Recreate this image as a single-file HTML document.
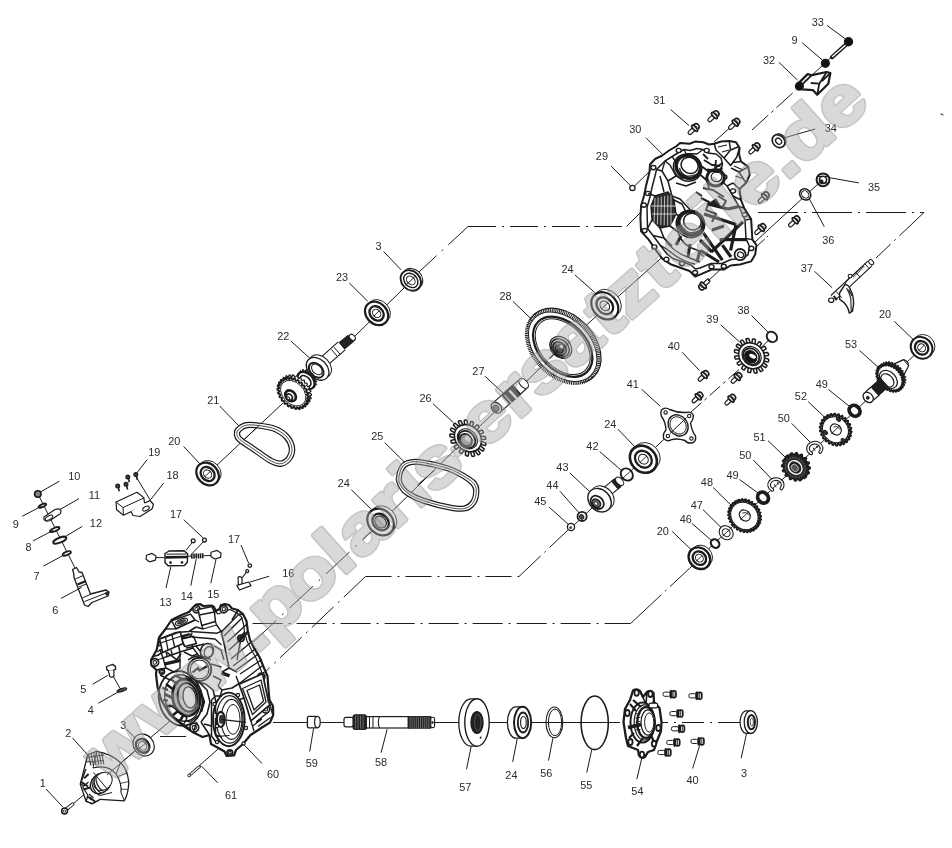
<!DOCTYPE html>
<html lang="de">
<head>
<meta charset="utf-8">
<title>Polaris Ersatzteile - Getriebe Explosionszeichnung</title>
<style>
html,body{margin:0;padding:0;background:#fff}
body{width:952px;height:848px;overflow:hidden}
svg{display:block}
svg text{font-family:"Liberation Sans",sans-serif;font-size:10.9px}
svg text.wm{font-weight:bold;font-size:69.5px}
#d{filter:blur(.35px)}
</style>
</head>
<body>
<svg width="952" height="848" viewBox="0 0 952 848">
<rect width="952" height="848" fill="#fff"/>
<g id="d">
<line x1="215" y1="467" x2="283" y2="403" stroke="#1c1c1c" stroke-width="1"/>
<line x1="300" y1="388" x2="352" y2="338" stroke="#1c1c1c" stroke-width="1"/>
<line x1="354" y1="337" x2="404" y2="288" stroke="#1c1c1c" stroke-width="1"/>
<line x1="419" y1="272" x2="468" y2="226.5" stroke="#1c1c1c" stroke-width="1" stroke-dasharray="24 7 2 7 30"/>
<line x1="468" y1="226.5" x2="626.5" y2="226.5" stroke="#1c1c1c" stroke-width="1" stroke-dasharray="28 6 2 6"/>
<line x1="626.5" y1="226.5" x2="643" y2="210" stroke="#1c1c1c" stroke-width="1"/>
<line x1="372" y1="531" x2="250" y2="645" stroke="#1c1c1c" stroke-width="1" stroke-dasharray="32 8 2 8" stroke-dashoffset="19"/>
<line x1="372" y1="531" x2="470" y2="435" stroke="#1c1c1c" stroke-width="1"/>
<line x1="480" y1="426" x2="560" y2="349" stroke="#1c1c1c" stroke-width="1"/>
<line x1="563" y1="346" x2="668" y2="252" stroke="#1c1c1c" stroke-width="1"/>
<line x1="365.5" y1="576.5" x2="262" y2="675" stroke="#1c1c1c" stroke-width="1" stroke-dasharray="30 6 2 6"/>
<line x1="365.5" y1="576.5" x2="519" y2="576.5" stroke="#1c1c1c" stroke-width="1" stroke-dasharray="26 6 2 6"/>
<line x1="519" y1="576.5" x2="568" y2="530" stroke="#1c1c1c" stroke-width="1" stroke-dasharray="30 5 2 5"/>
<line x1="572" y1="527" x2="680" y2="424" stroke="#1c1c1c" stroke-width="1"/>
<line x1="691" y1="412" x2="743" y2="366" stroke="#1c1c1c" stroke-width="1" stroke-dasharray="14 4 3 4"/>
<line x1="752" y1="356" x2="770" y2="339" stroke="#1c1c1c" stroke-width="1"/>
<line x1="630.6" y1="623.5" x2="250" y2="623.5" stroke="#1c1c1c" stroke-width="1" stroke-dasharray="30 6 2 6" stroke-dashoffset="4"/>
<line x1="630.6" y1="623.5" x2="692" y2="566" stroke="#1c1c1c" stroke-width="1" stroke-dasharray="42 5 2 5"/>
<line x1="700" y1="557" x2="923" y2="347" stroke="#1c1c1c" stroke-width="1"/>
<line x1="758" y1="212.5" x2="924" y2="212.5" stroke="#1c1c1c" stroke-width="1" stroke-dasharray="40 6 2 6"/>
<line x1="924" y1="212.5" x2="876" y2="258" stroke="#1c1c1c" stroke-width="1" stroke-dasharray="34 5 2 5"/>
<line x1="714" y1="142" x2="733" y2="125" stroke="#1c1c1c" stroke-width="1"/>
<line x1="752" y1="130" x2="796" y2="90" stroke="#1c1c1c" stroke-width="1" stroke-dasharray="22 4 3 4"/>
<line x1="797" y1="89" x2="850" y2="40" stroke="#1c1c1c" stroke-width="1"/>
<line x1="755" y1="242" x2="818" y2="184" stroke="#1c1c1c" stroke-width="1"/>
<line x1="744" y1="258" x2="768" y2="236" stroke="#1c1c1c" stroke-width="1" stroke-dasharray="10 3 2 3"/>
<line x1="273" y1="722.5" x2="620" y2="722.5" stroke="#1c1c1c" stroke-width="1"/>
<line x1="662" y1="722.5" x2="742" y2="722.5" stroke="#1c1c1c" stroke-width="1" stroke-dasharray="22 6 2 6" stroke-dashoffset="16"/>
<line x1="66" y1="810" x2="170" y2="721" stroke="#1c1c1c" stroke-width="1"/>
<line x1="160" y1="736.5" x2="186" y2="736.5" stroke="#1c1c1c" stroke-width="1"/>
<line x1="190" y1="774" x2="226" y2="742" stroke="#1c1c1c" stroke-width="1"/>
<line x1="38" y1="494" x2="76" y2="570" stroke="#1c1c1c" stroke-width="1"/>
<line x1="113" y1="676" x2="121" y2="690" stroke="#1c1c1c" stroke-width="1"/>
<circle cx="37.8" cy="494" r="3.2" fill="#888" stroke="#1c1c1c" stroke-width="1.6"/>
<line x1="40.7" y1="491.8" x2="59.4" y2="481.2" stroke="#1c1c1c" stroke-width="1"/>
<text x="74.3" y="479.8" text-anchor="middle" fill="#2a2a2a">10</text>
<ellipse cx="42.4" cy="505.6" rx="4" ry="1.4" fill="#fff" stroke="#1c1c1c" stroke-width="1.9" transform="rotate(-22 42.4 505.6)"/>
<line x1="22.3" y1="516.2" x2="41.4" y2="506.3" stroke="#1c1c1c" stroke-width="1"/>
<text x="15.9" y="527.9" text-anchor="middle" fill="#2a2a2a">9</text>
<path d="M44,517 L55,509.5 Q60,508 61,510.5 L60.5,513.5 L50,520.5 Q45.5,522 44,519.5 Z" fill="#fff" stroke="#1c1c1c" stroke-width="1.2" stroke-linejoin="round" />
<ellipse cx="49" cy="517.8" rx="4.2" ry="1.8" fill="#fff" stroke="#1c1c1c" stroke-width="1" transform="rotate(-28 49 517.8)"/>
<line x1="59.4" y1="509.9" x2="79" y2="498.6" stroke="#1c1c1c" stroke-width="1"/>
<text x="94.4" y="498.9" text-anchor="middle" fill="#2a2a2a">11</text>
<ellipse cx="54.7" cy="529.6" rx="5" ry="1.7" fill="#fff" stroke="#1c1c1c" stroke-width="1.9" transform="rotate(-22 54.7 529.6)"/>
<line x1="32.9" y1="541" x2="53" y2="530.4" stroke="#1c1c1c" stroke-width="1"/>
<text x="28.6" y="551.3" text-anchor="middle" fill="#2a2a2a">8</text>
<ellipse cx="59.8" cy="540.2" rx="7" ry="2.4" fill="#fff" stroke="#1c1c1c" stroke-width="2" transform="rotate(-22 59.8 540.2)"/>
<line x1="63.7" y1="537.5" x2="82.3" y2="526.4" stroke="#1c1c1c" stroke-width="1"/>
<text x="95.9" y="526.9" text-anchor="middle" fill="#2a2a2a">12</text>
<ellipse cx="66.8" cy="553.4" rx="4.4" ry="1.6" fill="#fff" stroke="#1c1c1c" stroke-width="1.8" transform="rotate(-22 66.8 553.4)"/>
<line x1="43.5" y1="566.1" x2="64.7" y2="554.6" stroke="#1c1c1c" stroke-width="1"/>
<text x="36.5" y="579.5" text-anchor="middle" fill="#2a2a2a">7</text>
<path d="M72.5,569.5 L76.5,567.5 L79,572 L82,572.5 L90.5,594 L106,590 L109,592 L108,596 L92,602.5 L88,606.5 L84.5,605 L74,577.5 L73.8,573.5 Z" fill="#fff" stroke="#1c1c1c" stroke-width="1.3" stroke-linejoin="round" />
<line x1="75.2" y1="579" x2="83.2" y2="575.6" stroke="#1c1c1c" stroke-width="1"/>
<line x1="77.5" y1="584.5" x2="85.5" y2="581.2" stroke="#1c1c1c" stroke-width="2.2"/>
<line x1="78.5" y1="587.2" x2="86.6" y2="583.8" stroke="#1c1c1c" stroke-width="1"/>
<line x1="82.6" y1="597.8" x2="90.8" y2="594.2" stroke="#1c1c1c" stroke-width="1"/>
<line x1="84.5" y1="601.5" x2="105" y2="593.5" stroke="#1c1c1c" stroke-width="1"/>
<circle cx="107" cy="593.5" r="1.6" fill="#333" stroke="#1c1c1c" stroke-width="1"/>
<line x1="61.1" y1="598.4" x2="81.7" y2="587.3" stroke="#1c1c1c" stroke-width="1"/>
<text x="55.2" y="613.5" text-anchor="middle" fill="#2a2a2a">6</text>
<circle cx="117.7" cy="486" r="1.9" fill="#444" stroke="#1c1c1c" stroke-width="1.2"/>
<line x1="118.2" y1="487.5" x2="119.3" y2="491.2" stroke="#1c1c1c" stroke-width="1.6"/>
<circle cx="126" cy="484.2" r="1.9" fill="#444" stroke="#1c1c1c" stroke-width="1.2"/>
<line x1="126.5" y1="485.7" x2="127.6" y2="489.4" stroke="#1c1c1c" stroke-width="1.6"/>
<circle cx="127.8" cy="477" r="1.9" fill="#444" stroke="#1c1c1c" stroke-width="1.2"/>
<line x1="128.3" y1="478.5" x2="129.4" y2="482.2" stroke="#1c1c1c" stroke-width="1.6"/>
<circle cx="135.8" cy="474.6" r="1.9" fill="#444" stroke="#1c1c1c" stroke-width="1.2"/>
<line x1="136.3" y1="476.1" x2="137.4" y2="479.8" stroke="#1c1c1c" stroke-width="1.6"/>
<line x1="136.8" y1="478" x2="150.5" y2="500.5" stroke="#1c1c1c" stroke-width="1"/>
<line x1="147.2" y1="459.5" x2="136.8" y2="473" stroke="#1c1c1c" stroke-width="1"/>
<text x="154.2" y="456.3" text-anchor="middle" fill="#2a2a2a">19</text>
<line x1="163.7" y1="483" x2="150.7" y2="499.6" stroke="#1c1c1c" stroke-width="1"/>
<text x="172.6" y="478.7" text-anchor="middle" fill="#2a2a2a">18</text>
<path d="M116,502 L137,492.3 L143.8,497.6 L144.8,505.2 L123.5,515.2 L116.6,509.8 Z" fill="#fff" stroke="#1c1c1c" stroke-width="1.2" stroke-linejoin="round" />
<path d="M116,502 L123,507.5 L144.2,497.8 M123,507.5 L123.5,515" fill="none" stroke="#1c1c1c" stroke-width="1" stroke-linejoin="round" />
<path d="M131,511.5 L133,515.5 L140,516.5 L152,509 L153.5,504.5 L150,500.5 L144.8,503" fill="#fff" stroke="#1c1c1c" stroke-width="1.2" stroke-linejoin="round" />
<ellipse cx="146" cy="508.5" rx="3.6" ry="2" fill="#fff" stroke="#1c1c1c" stroke-width="1" transform="rotate(-28 146 508.5)"/>
<text x="176" y="518.3" text-anchor="middle" fill="#2a2a2a">17</text>
<line x1="183.7" y1="519.6" x2="203.2" y2="538" stroke="#1c1c1c" stroke-width="1"/>
<circle cx="193.2" cy="540.8" r="1.9" fill="#fff" stroke="#1c1c1c" stroke-width="1.3"/>
<circle cx="204.5" cy="540.1" r="1.9" fill="#fff" stroke="#1c1c1c" stroke-width="1.3"/>
<line x1="192" y1="542.7" x2="186" y2="550.3" stroke="#1c1c1c" stroke-width="1"/>
<line x1="203.3" y1="541.8" x2="190.8" y2="555" stroke="#1c1c1c" stroke-width="1"/>
<path d="M146.5,555.2 L152,553.4 L156,556 L155.4,560.2 L149.5,561.8 L146,559.2 Z" fill="#fff" stroke="#1c1c1c" stroke-width="1.2" stroke-linejoin="round" />
<line x1="156" y1="557.6" x2="164" y2="557.6" stroke="#1c1c1c" stroke-width="1"/>
<path d="M165,553.5 L169,551 L184,550.8 L187.6,553.8 L187.4,562 L184.5,565.5 L168,565.8 L165,562.5 Z" fill="#fff" stroke="#1c1c1c" stroke-width="1.4" stroke-linejoin="round" />
<line x1="165.4" y1="557.4" x2="187.4" y2="557" stroke="#1c1c1c" stroke-width="2.6"/>
<line x1="166.5" y1="554.2" x2="186.4" y2="554" stroke="#1c1c1c" stroke-width="1"/>
<circle cx="170.5" cy="562.6" r="1" fill="#222" stroke="#1c1c1c" stroke-width="0.8"/>
<circle cx="182" cy="562.4" r="1" fill="#222" stroke="#1c1c1c" stroke-width="0.8"/>
<line x1="191" y1="556.2" x2="203.6" y2="555.8" stroke="#1c1c1c" stroke-width="5" stroke-dasharray="1.6 0.6"/>
<line x1="187.6" y1="556.2" x2="191" y2="556.2" stroke="#1c1c1c" stroke-width="1"/>
<line x1="203.6" y1="555.8" x2="211" y2="555.4" stroke="#1c1c1c" stroke-width="1"/>
<path d="M211,552.2 L217,550.4 L221,553 L220.6,557.4 L214.6,559 L211,556.4 Z" fill="#fff" stroke="#1c1c1c" stroke-width="1.2" stroke-linejoin="round" />
<line x1="170.8" y1="566.8" x2="166" y2="588" stroke="#1c1c1c" stroke-width="1"/>
<text x="165.6" y="605.6" text-anchor="middle" fill="#2a2a2a">13</text>
<line x1="196.2" y1="559.2" x2="190.8" y2="585.7" stroke="#1c1c1c" stroke-width="1"/>
<text x="186.8" y="599.7" text-anchor="middle" fill="#2a2a2a">14</text>
<line x1="216" y1="559.4" x2="210.8" y2="583.3" stroke="#1c1c1c" stroke-width="1"/>
<text x="213.2" y="597.8" text-anchor="middle" fill="#2a2a2a">15</text>
<text x="234" y="542.9" text-anchor="middle" fill="#2a2a2a">17</text>
<line x1="241" y1="545.1" x2="248.6" y2="563" stroke="#1c1c1c" stroke-width="1"/>
<circle cx="249.8" cy="565.6" r="1.8" fill="#fff" stroke="#1c1c1c" stroke-width="1.3"/>
<circle cx="247.2" cy="571.2" r="1.5" fill="#fff" stroke="#1c1c1c" stroke-width="1.2"/>
<path d="M238,577.5 L238.4,585 L242,586 L242,578 Q240,575.6 238,577.5 Z" fill="#fff" stroke="#1c1c1c" stroke-width="1.2" stroke-linejoin="round" />
<line x1="242" y1="578" x2="247" y2="571.5" stroke="#1c1c1c" stroke-width="1.2"/>
<path d="M236.8,585.4 L248.6,582 L251,585.6 L239.4,590 Z" fill="#fff" stroke="#1c1c1c" stroke-width="1.2" stroke-linejoin="round" />
<line x1="249.8" y1="582.1" x2="269.3" y2="576.2" stroke="#1c1c1c" stroke-width="1"/>
<text x="288.2" y="576.6" text-anchor="middle" fill="#2a2a2a">16</text>
<path d="M106.6,666.5 L112.6,664.4 L115.4,666.4 L115.6,669.4 L109.6,671.6 L106.8,669.6 Z" fill="#fff" stroke="#1c1c1c" stroke-width="1.3" stroke-linejoin="round" />
<path d="M108.4,671 L109.8,676.4 Q112.2,678.2 114,676 L113.8,670" fill="#fff" stroke="#1c1c1c" stroke-width="1.2" stroke-linejoin="round" />
<line x1="92.6" y1="684.3" x2="107.7" y2="675.4" stroke="#1c1c1c" stroke-width="1"/>
<text x="83.2" y="693.4" text-anchor="middle" fill="#2a2a2a">5</text>
<ellipse cx="121.9" cy="690" rx="5" ry="1.5" fill="#555" stroke="#1c1c1c" stroke-width="1.2" transform="rotate(-18 121.9 690)"/>
<line x1="98.3" y1="703.2" x2="118.5" y2="691.8" stroke="#1c1c1c" stroke-width="1"/>
<text x="90.8" y="713.5" text-anchor="middle" fill="#2a2a2a">4</text>
<path d="M87.8,754.5 L96.6,751.4 Q112,754 120.6,762.8 Q127,768 128.8,782 Q128.6,793 124.4,800.8 L100.4,799.3 L92,804 L86,801 L80.3,784.2 Z" fill="#fff" stroke="#1c1c1c" stroke-width="1.3" stroke-linejoin="round" />
<path d="M93,768 Q108,764 116,774 Q122,783 121,792.5" fill="none" stroke="#1c1c1c" stroke-width="1.2" stroke-linejoin="round" />
<path d="M96.6,751.4 L93,768 M120.6,762.8 L116,774 M124.4,800.8 L121,792.5" fill="none" stroke="#1c1c1c" stroke-width="1" stroke-linejoin="round" />
<line x1="117.5" y1="776.5" x2="127.6" y2="773" stroke="#1c1c1c" stroke-width="0.8"/>
<line x1="120" y1="783.5" x2="128.8" y2="781.5" stroke="#1c1c1c" stroke-width="0.8"/>
<line x1="121" y1="789" x2="127.6" y2="789.5" stroke="#1c1c1c" stroke-width="0.8"/>
<line x1="88.5" y1="754.5" x2="90.9" y2="765.5" stroke="#1c1c1c" stroke-width="1.1"/>
<line x1="91.1" y1="754" x2="93.5" y2="765.3" stroke="#1c1c1c" stroke-width="1.1"/>
<line x1="93.7" y1="753.5" x2="96.1" y2="765.1" stroke="#1c1c1c" stroke-width="1.1"/>
<line x1="96.3" y1="753" x2="98.7" y2="764.9" stroke="#1c1c1c" stroke-width="1.1"/>
<line x1="98.9" y1="752.5" x2="101.3" y2="764.7" stroke="#1c1c1c" stroke-width="1.1"/>
<line x1="101.5" y1="752" x2="103.9" y2="764.5" stroke="#1c1c1c" stroke-width="1.1"/>
<line x1="86.5" y1="757.5" x2="104" y2="755" stroke="#1c1c1c" stroke-width="1"/>
<line x1="86.5" y1="762" x2="104" y2="760.5" stroke="#1c1c1c" stroke-width="1"/>
<ellipse cx="100.6" cy="783.5" rx="9.2" ry="11.2" fill="#fff" stroke="#1c1c1c" stroke-width="1.4" transform="rotate(46 100.6 783.5)"/>
<ellipse cx="103" cy="781.4" rx="8.2" ry="10.2" fill="#fff" stroke="#1c1c1c" stroke-width="1" transform="rotate(46 103 781.4)"/>
<path d="M92,779 Q91,790 99.5,795.5 M94,777 Q93,788 101.5,793.5 M96,775.5 Q95,786 103.5,791.5" fill="none" stroke="#1c1c1c" stroke-width="1.1" stroke-linejoin="round" />
<path d="M93.4,772.5 L108,790 M99.6,795.6 L112,792.5" fill="none" stroke="#1c1c1c" stroke-width="1" stroke-linejoin="round" />
<path d="M81.5,782 L88,786.5 M83.6,789.5 L90,787.5 M84,778.4 L88.6,774 M89,797 L95,801.5" fill="none" stroke="#1c1c1c" stroke-width="2" stroke-linejoin="round" />
<line x1="107" y1="774.9" x2="134" y2="751.8" stroke="#1c1c1c" stroke-width="1"/>
<path d="M86,769 L80.5,783.5 L84,786 L88.5,782 M82.5,786.5 L88,795.5 L86,801.5 L92.5,803.5 L100,799.5" fill="none" stroke="#1c1c1c" stroke-width="1.3" stroke-linejoin="round" />
<path d="M87,796 L91.5,800 M89,794 L93.5,798" fill="none" stroke="#1c1c1c" stroke-width="1.2" stroke-linejoin="round" />
<line x1="72.4" y1="737.9" x2="88.4" y2="755.6" stroke="#1c1c1c" stroke-width="1"/>
<text x="68.3" y="737.1" text-anchor="middle" fill="#2a2a2a">2</text>
<line x1="66.8" y1="809" x2="72.6" y2="804.2" stroke="#1c1c1c" stroke-width="3.6" stroke-linecap="round"/>
<line x1="66.8" y1="809" x2="72.6" y2="804.2" stroke="#fff" stroke-width="1.8" stroke-linecap="round"/>
<circle cx="64.6" cy="811" r="2.9" fill="#fff" stroke="#1c1c1c" stroke-width="1.5"/>
<circle cx="64.6" cy="811" r="1.2" fill="#fff" stroke="#1c1c1c" stroke-width="0.8"/>
<line x1="46" y1="789" x2="62.6" y2="806.8" stroke="#1c1c1c" stroke-width="1"/>
<text x="42.9" y="787.3" text-anchor="middle" fill="#2a2a2a">1</text>
<ellipse cx="143.6" cy="745" rx="11.6" ry="10" fill="#fff" stroke="#1c1c1c" stroke-width="1.2" transform="rotate(50 143.6 745)"/>
<ellipse cx="142.6" cy="745.8" rx="7.4" ry="6.2" fill="#fff" stroke="#1c1c1c" stroke-width="2.4" transform="rotate(50 142.6 745.8)"/>
<ellipse cx="142.6" cy="745.8" rx="4.6" ry="3.8" fill="#fff" stroke="#1c1c1c" stroke-width="1" transform="rotate(50 142.6 745.8)"/>
<line x1="137.5" y1="750" x2="147.5" y2="741.6" stroke="#1c1c1c" stroke-width="0.9"/>
<line x1="126.6" y1="729.2" x2="135.6" y2="738.4" stroke="#1c1c1c" stroke-width="1"/>
<text x="123.3" y="728.8" text-anchor="middle" fill="#2a2a2a">3</text>
<line x1="190.4" y1="774.4" x2="199.6" y2="766.6" stroke="#1c1c1c" stroke-width="2.8" stroke-linecap="round"/>
<line x1="190.6" y1="774.2" x2="199.4" y2="766.8" stroke="#fff" stroke-width="1.2" stroke-linecap="round"/>
<circle cx="189.2" cy="775.4" r="1.4" fill="#fff" stroke="#1c1c1c" stroke-width="1"/>
<line x1="201.6" y1="766.2" x2="217.6" y2="782.7" stroke="#1c1c1c" stroke-width="1"/>
<text x="231" y="798.9" text-anchor="middle" fill="#2a2a2a">61</text>
<polygon points="193,607.5 196,604.5 200,604 203,606 211.5,605.5 214,607 216,611 219.5,609 221,605 225,604 229,605 232,608.5 238,610 243,614 246.5,621 247.8,631 250,640 254,648 259.5,657 264,668 267.5,676 268.5,690 269.5,700 273,706 273.2,715 270,722.5 262,727.5 256,731.5 250.5,735 243,744 236,750 234,755.5 226.5,755.8 224.5,751.5 217.5,747.5 211,744 209.5,735 202.5,737 193.5,732.5 183,725.5 170,715 161.5,700.5 157.5,687 156,674 156.5,670 151.5,665.5 151,660 153,656.5 156.8,649.5 159,637.5 165.5,629 171.5,620 180.5,615.5 189,612" fill="#fff" stroke="#1c1c1c" stroke-width="2.2" stroke-linejoin="round"/>
<polyline points="195,612 214,610.5 218,614 230,609.5 237,613 241.5,617 243.5,624 244.5,632 247,641 251,649 256,658 260.5,669 264,678 265,691 266,701" fill="none" stroke="#1c1c1c" stroke-width="1.2" stroke-linejoin="round"/>
<circle cx="196.5" cy="609.2" r="3.6" fill="#fff" stroke="#1c1c1c" stroke-width="1.7"/>
<circle cx="196.5" cy="609.2" r="1.7" fill="#fff" stroke="#1c1c1c" stroke-width="1.1"/>
<circle cx="223.8" cy="609.2" r="3.6" fill="#fff" stroke="#1c1c1c" stroke-width="1.7"/>
<circle cx="223.8" cy="609.2" r="1.7" fill="#fff" stroke="#1c1c1c" stroke-width="1.1"/>
<circle cx="241" cy="638.3" r="3.2" fill="#fff" stroke="#1c1c1c" stroke-width="1.7"/>
<circle cx="241" cy="638.3" r="1.5" fill="#fff" stroke="#1c1c1c" stroke-width="1.1"/>
<circle cx="261.3" cy="676.6" r="3.6" fill="#fff" stroke="#1c1c1c" stroke-width="1.7"/>
<circle cx="261.3" cy="676.6" r="1.7" fill="#fff" stroke="#1c1c1c" stroke-width="1.1"/>
<circle cx="265.8" cy="709.2" r="3.8" fill="#fff" stroke="#1c1c1c" stroke-width="1.7"/>
<circle cx="265.8" cy="709.2" r="1.8" fill="#fff" stroke="#1c1c1c" stroke-width="1.1"/>
<circle cx="194.3" cy="727.5" r="4.4" fill="#fff" stroke="#1c1c1c" stroke-width="1.7"/>
<circle cx="194.3" cy="727.5" r="2.1" fill="#fff" stroke="#1c1c1c" stroke-width="1.1"/>
<circle cx="154.8" cy="662.4" r="3.8" fill="#fff" stroke="#1c1c1c" stroke-width="1.7"/>
<circle cx="154.8" cy="662.4" r="1.8" fill="#fff" stroke="#1c1c1c" stroke-width="1.1"/>
<circle cx="161.9" cy="671.5" r="2.6" fill="#fff" stroke="#1c1c1c" stroke-width="1.7"/>
<circle cx="161.9" cy="671.5" r="1.2" fill="#fff" stroke="#1c1c1c" stroke-width="1.1"/>
<circle cx="229.8" cy="752.6" r="2.8" fill="#fff" stroke="#1c1c1c" stroke-width="1.7"/>
<circle cx="229.8" cy="752.6" r="1.3" fill="#fff" stroke="#1c1c1c" stroke-width="1.1"/>
<path d="M198.2,609.5 L211.8,606.6 L214.4,612 L215.4,621.5 L201.8,625.5 L199.2,615 Z" fill="#fff" stroke="#1c1c1c" stroke-width="1.5" stroke-linejoin="round" />
<path d="M199.2,615 L214.4,612 M201.8,625.5 L203,629 L216.6,625 L215.4,621.5" fill="none" stroke="#1c1c1c" stroke-width="1.3" stroke-linejoin="round" />
<path d="M171.5,620.7 L190.6,614.1 L195,620 L176,628.8 Z" fill="#fff" stroke="#1c1c1c" stroke-width="1.5" stroke-linejoin="round" />
<ellipse cx="181.5" cy="621.8" rx="6.4" ry="2.6" fill="#fff" stroke="#1c1c1c" stroke-width="1.2" transform="rotate(-22 181.5 621.8)"/>
<ellipse cx="181.5" cy="621.8" rx="4.2" ry="1.3" fill="#555" stroke="#1c1c1c" stroke-width="0.9" transform="rotate(-22 181.5 621.8)"/>
<path d="M165.5,629 L176,628.8 L195,620 L199,622" fill="none" stroke="#1c1c1c" stroke-width="1.3" stroke-linejoin="round" />
<path d="M159.5,639 L176,632.5 L189,631.5 L196,627 M158,646 L176,638 L190,637 L192,633 M176,632.5 L176,638" fill="none" stroke="#1c1c1c" stroke-width="1.7" stroke-linejoin="round" />
<path d="M160,650 L178,643.5 L180,652 L163,658 Z" fill="#fff" stroke="#1c1c1c" stroke-width="1.5" stroke-linejoin="round" />
<path d="M178,643.5 L191,640.5 L193,648 L180,652 M163,658 L166,668 L174,672 L180,668 L180,652 M166,652 L167.5,657 M171,650 L172.5,655.5" fill="none" stroke="#1c1c1c" stroke-width="1.4" stroke-linejoin="round" />
<path d="M159,642.5 L190,634.2" fill="none" stroke="#1c1c1c" stroke-width="2.4" stroke-linejoin="round" />
<path d="M157,652 L160,650 M157,660 L163,658 M153,656.5 L159,655" fill="none" stroke="#1c1c1c" stroke-width="1.3" stroke-linejoin="round" />
<path d="M159.7,639.1 L180.3,631.8 L183.2,643.5 L162.6,652.4 Z" fill="#fff" stroke="#1c1c1c" stroke-width="1.6" stroke-linejoin="round" />
<path d="M172,634.8 L174.6,647 M165.5,637 L168,650 M160.5,643 L181.6,636" fill="none" stroke="#1c1c1c" stroke-width="1.3" stroke-linejoin="round" />
<path d="M181.8,639.1 L193.5,636.2 L196.5,643.5 L184.7,646.5 Z" fill="#fff" stroke="#1c1c1c" stroke-width="1.5" stroke-linejoin="round" />
<path d="M167,652.4 L176.6,659.7 L181,653.8 M162.6,652.4 L158,655 M183.2,643.5 L184.7,646.5" fill="none" stroke="#1c1c1c" stroke-width="1.6" stroke-linejoin="round" />
<path d="M186,648 L196,646 L200,651 M184,652 L192,656 L198,654" fill="none" stroke="#1c1c1c" stroke-width="1.5" stroke-linejoin="round" />
<line x1="164.1" y1="664.1" x2="180.3" y2="660.4" stroke="#1c1c1c" stroke-width="3.4"/>
<line x1="221.5" y1="672.9" x2="229.6" y2="675.9" stroke="#1c1c1c" stroke-width="3.4"/>
<path d="M156.5,670 L166,668 M160,675 L170,680 L176,676" fill="none" stroke="#1c1c1c" stroke-width="1.4" stroke-linejoin="round" />
<ellipse cx="207" cy="651" rx="6.4" ry="7.6" fill="#fff" stroke="#1c1c1c" stroke-width="1.6" transform="rotate(20 207 651)"/>
<ellipse cx="208.5" cy="652" rx="4.2" ry="5.4" fill="#fff" stroke="#1c1c1c" stroke-width="1.2" transform="rotate(20 208.5 652)"/>
<path d="M190,631.5 L217,633.2 L222,631 M192,637 L215,639 L221.5,645 M196,646 L204,644 M193,648 L199,656 M214,646 L221,650 L224,660" fill="none" stroke="#1c1c1c" stroke-width="1.4" stroke-linejoin="round" />
<path d="M196,627 L203,629 M216.6,625 L221.5,631.8" fill="none" stroke="#1c1c1c" stroke-width="1.4" stroke-linejoin="round" />
<line x1="221.5" y1="631.8" x2="239.1" y2="614.1" stroke="#1c1c1c" stroke-width="1.4"/>
<line x1="224" y1="636" x2="242.5" y2="617.5" stroke="#1c1c1c" stroke-width="1.4"/>
<line x1="227.4" y1="642" x2="246.5" y2="624.4" stroke="#1c1c1c" stroke-width="1.4"/>
<line x1="229" y1="650" x2="249" y2="632" stroke="#1c1c1c" stroke-width="1.4"/>
<line x1="231" y1="659" x2="252.5" y2="641" stroke="#1c1c1c" stroke-width="1.4"/>
<line x1="233" y1="666" x2="256" y2="648.5" stroke="#1c1c1c" stroke-width="1.4"/>
<line x1="236.2" y1="670" x2="259" y2="653.5" stroke="#1c1c1c" stroke-width="1.4"/>
<line x1="240" y1="674" x2="262" y2="659.5" stroke="#1c1c1c" stroke-width="1.4"/>
<path d="M221.5,631.8 L225,648 L229,668 L237,672 M239.1,614.1 L243,614.5 M238,610 L232,620 M229,668 L222,672" fill="none" stroke="#1c1c1c" stroke-width="1.6" stroke-linejoin="round" />
<path d="M247.9,631 L241,638 L237,660 M262,666 L240,683 M264.5,672 L244,688 M244.5,632 L238,640" fill="none" stroke="#1c1c1c" stroke-width="1.4" stroke-linejoin="round" />
<circle cx="199.6" cy="669.4" r="11.6" fill="#fff" stroke="#1c1c1c" stroke-width="1.9"/>
<circle cx="199.6" cy="669.4" r="9.4" fill="#fff" stroke="#1c1c1c" stroke-width="1.1"/>
<path d="M192.5,672.5 L198,668 L199.5,670.5 L207.5,666" fill="none" stroke="#1c1c1c" stroke-width="2.2" stroke-linejoin="round" />
<path d="M188,660 Q199,652 211,660 M186,676 Q189,684 198,686 M213,676 L221,680 L218,686 M211,664 L221.5,667" fill="none" stroke="#1c1c1c" stroke-width="1.4" stroke-linejoin="round" />
<ellipse cx="180.5" cy="698.5" rx="21.5" ry="27.5" fill="none" stroke="#1c1c1c" stroke-width="1.8" transform="rotate(-12 180.5 698.5)"/>
<ellipse cx="182.5" cy="698" rx="17.5" ry="23.5" fill="none" stroke="#1c1c1c" stroke-width="1.4" transform="rotate(-12 182.5 698)"/>
<ellipse cx="186.2" cy="697.4" rx="13.6" ry="18.6" fill="#b5b5b5" stroke="#1c1c1c" stroke-width="2.6" transform="rotate(-10 186.2 697.4)"/>
<ellipse cx="187.6" cy="697.4" rx="9.8" ry="14.4" fill="#dcdcdc" stroke="#1c1c1c" stroke-width="2" transform="rotate(-10 187.6 697.4)"/>
<ellipse cx="189.5" cy="697.4" rx="6.4" ry="10.6" fill="#fff" stroke="#1c1c1c" stroke-width="1.3" transform="rotate(-10 189.5 697.4)"/>
<path d="M166,684 L174,690 M164.5,694 L172.5,698 M166.5,706 L174.5,706 M172,716 L178,711 M180,721 L184,714" fill="none" stroke="#1c1c1c" stroke-width="2.6" stroke-linejoin="round" />
<path d="M176,676 L185,680 M171,679.5 L178,684 M162.5,688 L168,690 M163,700 L168,700.5" fill="none" stroke="#1c1c1c" stroke-width="2" stroke-linejoin="round" />
<path d="M200,683 L207,690 L210,702 L207,714 L201,722 M206,684 L213,690 L216,702 L214,712 M196,682 L206,684 M201,722 L209.5,735 M198,716 L190,722 L186,720" fill="none" stroke="#1c1c1c" stroke-width="1.5" stroke-linejoin="round" />
<path d="M218,686 L222,690 L219,700 L213,704 M222,690 L232,688 L240,683 M204,724 L211.5,726" fill="none" stroke="#1c1c1c" stroke-width="1.5" stroke-linejoin="round" />
<path d="M183,725.5 L187,718 L170,705 M193,732.5 L197,722 M176,719 L190,729" fill="none" stroke="#1c1c1c" stroke-width="1.4" stroke-linejoin="round" />
<path d="M200,690 L204,702 L201,712" fill="none" stroke="#1c1c1c" stroke-width="2.4" stroke-linejoin="round" />
<path d="M239.1,684.1 L262.6,673.8 L268.5,701.8 L270,704.7 L250.9,720.9 L244,698 Z" fill="#fff" stroke="#1c1c1c" stroke-width="1.7" stroke-linejoin="round" />
<path d="M242.5,688.5 L261,680 L266,702 L252.5,714.5 Z M247,690.5 L259.5,685 L263.5,701 L254,710 Z" fill="none" stroke="#1c1c1c" stroke-width="1.3" stroke-linejoin="round" />
<path d="M250.9,720.9 L254,731 M270,704.7 L272.5,714 M256,722 L268.5,712 M258,726.5 L270.5,717.5 M252.5,726 L262,719" fill="none" stroke="#1c1c1c" stroke-width="1.4" stroke-linejoin="round" />
<path d="M239.1,684.1 L236,676 M244,698 L238,700" fill="none" stroke="#1c1c1c" stroke-width="1.4" stroke-linejoin="round" />
<ellipse cx="228.8" cy="719.4" rx="15.8" ry="26.8" fill="#fff" stroke="#1c1c1c" stroke-width="1.9"/>
<ellipse cx="229.6" cy="719.4" rx="13.4" ry="23.8" fill="#fff" stroke="#1c1c1c" stroke-width="1.2"/>
<ellipse cx="231.5" cy="719.4" rx="10.4" ry="20" fill="#fff" stroke="#1c1c1c" stroke-width="1.1"/>
<ellipse cx="233" cy="719.4" rx="7" ry="15" fill="#fff" stroke="#1c1c1c" stroke-width="1"/>
<path d="M211.5,700 L215.5,696 L222,696 M211.5,700 L211.5,736 L216,742 M215.5,718 L215.5,735 L222,737 M215.5,704 L215.5,714" fill="none" stroke="#1c1c1c" stroke-width="1.5" stroke-linejoin="round" />
<ellipse cx="220.7" cy="719.4" rx="3.9" ry="7.6" fill="#fff" stroke="#1c1c1c" stroke-width="2.2"/>
<ellipse cx="221.4" cy="719.4" rx="1.8" ry="3.8" fill="#444" stroke="#1c1c1c" stroke-width="1.1"/>
<line x1="221" y1="719.4" x2="246" y2="722.4" stroke="#1c1c1c" stroke-width="1.2"/>
<line x1="215.5" y1="736.5" x2="229.5" y2="735.5" stroke="#1c1c1c" stroke-width="1.2"/>
<circle cx="217" cy="726" r="1.6" fill="#fff" stroke="#1c1c1c" stroke-width="1.2"/>
<circle cx="217" cy="742" r="1.6" fill="#fff" stroke="#1c1c1c" stroke-width="1.2"/>
<circle cx="243.5" cy="743.5" r="1.6" fill="#fff" stroke="#1c1c1c" stroke-width="1.2"/>
<circle cx="246" cy="728" r="1.6" fill="#fff" stroke="#1c1c1c" stroke-width="1.2"/>
<circle cx="238" cy="695" r="1.6" fill="#fff" stroke="#1c1c1c" stroke-width="1.2"/>
<circle cx="214.5" cy="704" r="1.6" fill="#fff" stroke="#1c1c1c" stroke-width="1.2"/>
<line x1="243.8" y1="744.6" x2="262" y2="763.5" stroke="#1c1c1c" stroke-width="1"/>
<text x="273" y="777.9" text-anchor="middle" fill="#2a2a2a">60</text>
<rect x="307.4" y="716.4" width="10" height="11.4" rx="1.6" fill="#fff" stroke="#1c1c1c" stroke-width="1.3"/>
<ellipse cx="317.4" cy="722.1" rx="2.8" ry="5.7" fill="#fff" stroke="#1c1c1c" stroke-width="1.2"/>
<line x1="313.6" y1="728.4" x2="309.7" y2="751.4" stroke="#1c1c1c" stroke-width="1"/>
<text x="311.8" y="767.1" text-anchor="middle" fill="#2a2a2a">59</text>
<rect x="344" y="717.4" width="9.5" height="9.4" rx="2" fill="#fff" stroke="#1c1c1c" stroke-width="1.2"/>
<rect x="353" y="714.8" width="13.4" height="14.6" rx="1.5" fill="#222" stroke="#1c1c1c" stroke-width="1"/>
<line x1="355.5" y1="715.5" x2="355.5" y2="728.8" stroke="#888" stroke-width="0.7"/>
<line x1="358" y1="715.5" x2="358" y2="728.8" stroke="#888" stroke-width="0.7"/>
<line x1="360.5" y1="715.5" x2="360.5" y2="728.8" stroke="#888" stroke-width="0.7"/>
<line x1="363" y1="715.5" x2="363" y2="728.8" stroke="#888" stroke-width="0.7"/>
<rect x="366.4" y="716.6" width="42" height="11.4" fill="#fff" stroke="#1c1c1c" stroke-width="1.2"/>
<line x1="369.5" y1="716.6" x2="369.5" y2="728" stroke="#1c1c1c" stroke-width="1"/>
<line x1="373" y1="716.6" x2="373" y2="728" stroke="#1c1c1c" stroke-width="1"/>
<path d="M379.5,716.6 Q377,722.3 379.5,728" fill="none" stroke="#1c1c1c" stroke-width="1.1" stroke-linejoin="round" />
<rect x="408.2" y="716.6" width="22.6" height="11.6" fill="#222" stroke="#1c1c1c" stroke-width="1"/>
<line x1="410" y1="717" x2="410" y2="728" stroke="#999" stroke-width="0.6"/>
<line x1="412.1" y1="717" x2="412.1" y2="728" stroke="#999" stroke-width="0.6"/>
<line x1="414.2" y1="717" x2="414.2" y2="728" stroke="#999" stroke-width="0.6"/>
<line x1="416.3" y1="717" x2="416.3" y2="728" stroke="#999" stroke-width="0.6"/>
<line x1="418.4" y1="717" x2="418.4" y2="728" stroke="#999" stroke-width="0.6"/>
<line x1="420.5" y1="717" x2="420.5" y2="728" stroke="#999" stroke-width="0.6"/>
<line x1="422.6" y1="717" x2="422.6" y2="728" stroke="#999" stroke-width="0.6"/>
<line x1="424.7" y1="717" x2="424.7" y2="728" stroke="#999" stroke-width="0.6"/>
<line x1="426.8" y1="717" x2="426.8" y2="728" stroke="#999" stroke-width="0.6"/>
<line x1="428.9" y1="717" x2="428.9" y2="728" stroke="#999" stroke-width="0.6"/>
<rect x="430.8" y="717.2" width="3.8" height="10.4" rx="1.6" fill="#fff" stroke="#1c1c1c" stroke-width="1.1"/>
<circle cx="432.6" cy="722.4" r="1" fill="#333" stroke="#1c1c1c" stroke-width="0.6"/>
<line x1="387.2" y1="729.1" x2="381.1" y2="752.7" stroke="#1c1c1c" stroke-width="1"/>
<text x="381.1" y="766.3" text-anchor="middle" fill="#2a2a2a">58</text>
<path d="M471,698.8 A12.2,23.7 0 0 0 471,746.2 L477,746.2 L477,698.8 Z" fill="#fff" stroke="#1c1c1c" stroke-width="1.3" stroke-linejoin="round" />
<ellipse cx="477" cy="722.5" rx="12.2" ry="23.7" fill="#fff" stroke="#1c1c1c" stroke-width="1.4"/>
<ellipse cx="477" cy="722.5" rx="6" ry="10.8" fill="#222" stroke="#1c1c1c" stroke-width="1.4"/>
<ellipse cx="477.8" cy="722.5" rx="3.2" ry="8.4" fill="#222" stroke="#999" stroke-width="0.8" stroke-dasharray="1 1"/>
<circle cx="480.6" cy="737.6" r="0.8" fill="#333" stroke="#1c1c1c" stroke-width="0.5"/>
<line x1="471.2" y1="746.4" x2="466.5" y2="769.3" stroke="#1c1c1c" stroke-width="1"/>
<text x="465.2" y="790.8" text-anchor="middle" fill="#2a2a2a">57</text>
<path d="M516,706.8 A8.6,15.7 0 0 0 516,738.2 L522.6,738.2 L522.6,706.8 Z" fill="#fff" stroke="#1c1c1c" stroke-width="1.3" stroke-linejoin="round" />
<ellipse cx="522.6" cy="722.5" rx="8.6" ry="15.7" fill="#fff" stroke="#1c1c1c" stroke-width="2"/>
<ellipse cx="523" cy="722.5" rx="5.2" ry="10" fill="#fff" stroke="#1c1c1c" stroke-width="1.8"/>
<ellipse cx="523.4" cy="722.5" rx="2.8" ry="6" fill="#fff" stroke="#1c1c1c" stroke-width="1.1"/>
<line x1="517.2" y1="738.8" x2="512.7" y2="761.9" stroke="#1c1c1c" stroke-width="1"/>
<text x="511.4" y="778.9" text-anchor="middle" fill="#2a2a2a">24</text>
<ellipse cx="554.4" cy="722.4" rx="8.4" ry="15.4" fill="none" stroke="#1c1c1c" stroke-width="1.1"/>
<ellipse cx="555" cy="722.4" rx="6.6" ry="13.4" fill="none" stroke="#1c1c1c" stroke-width="1"/>
<line x1="552.9" y1="738.2" x2="548.5" y2="760.6" stroke="#1c1c1c" stroke-width="1"/>
<text x="546.2" y="776.9" text-anchor="middle" fill="#2a2a2a">56</text>
<ellipse cx="594.7" cy="722.8" rx="13.6" ry="26.8" fill="none" stroke="#1c1c1c" stroke-width="1.6"/>
<line x1="591.8" y1="749.6" x2="586.8" y2="772.4" stroke="#1c1c1c" stroke-width="1"/>
<text x="586.2" y="789.2" text-anchor="middle" fill="#2a2a2a">55</text>
<path d="M633,690.5 Q637,688 640,691 L643,697 L647,692 Q651,689.5 653.5,693 L654,702 L659.5,708 L661.5,722 L661,731 L657,741 L654,750 L648,752 L645,757 Q641,759 639,755.5 L638,750 L628,746 L626,738 L623.5,722 L625,709 L630,700 Z" fill="#fff" stroke="#1c1c1c" stroke-width="2.3" stroke-linejoin="round" />
<ellipse cx="636.6" cy="692.8" rx="2.2" ry="3" fill="#fff" stroke="#1c1c1c" stroke-width="1.8"/>
<ellipse cx="650.4" cy="694" rx="2.2" ry="3" fill="#fff" stroke="#1c1c1c" stroke-width="1.8"/>
<ellipse cx="627.4" cy="713" rx="2.2" ry="3" fill="#fff" stroke="#1c1c1c" stroke-width="1.8"/>
<ellipse cx="658.4" cy="728" rx="2.2" ry="3" fill="#fff" stroke="#1c1c1c" stroke-width="1.8"/>
<ellipse cx="630.4" cy="742" rx="2.2" ry="3" fill="#fff" stroke="#1c1c1c" stroke-width="1.8"/>
<ellipse cx="654" cy="743.6" rx="2.2" ry="3" fill="#fff" stroke="#1c1c1c" stroke-width="1.8"/>
<ellipse cx="642" cy="754.6" rx="2.2" ry="3" fill="#fff" stroke="#1c1c1c" stroke-width="1.8"/>
<ellipse cx="642.5" cy="722.5" rx="12" ry="20" fill="#fff" stroke="#1c1c1c" stroke-width="2"/>
<ellipse cx="644.4" cy="722.5" rx="10.2" ry="17.6" fill="#fff" stroke="#1c1c1c" stroke-width="1.2"/>
<ellipse cx="646" cy="722.5" rx="8.8" ry="15.4" fill="#fff" stroke="#1c1c1c" stroke-width="2.4"/>
<ellipse cx="647.8" cy="722.5" rx="6.8" ry="12.6" fill="#fff" stroke="#1c1c1c" stroke-width="1.2"/>
<ellipse cx="649.2" cy="722.5" rx="4.6" ry="9.6" fill="#fff" stroke="#1c1c1c" stroke-width="1"/>
<line x1="635.5" y1="714" x2="640.5" y2="713.4" stroke="#1c1c1c" stroke-width="0.9"/>
<line x1="635.5" y1="718" x2="640.5" y2="717.4" stroke="#1c1c1c" stroke-width="0.9"/>
<line x1="635.5" y1="722" x2="640.5" y2="721.4" stroke="#1c1c1c" stroke-width="0.9"/>
<line x1="635.5" y1="726" x2="640.5" y2="725.4" stroke="#1c1c1c" stroke-width="0.9"/>
<line x1="635.5" y1="730" x2="640.5" y2="729.4" stroke="#1c1c1c" stroke-width="0.9"/>
<path d="M628,727.5 L641,724.5" fill="none" stroke="#1c1c1c" stroke-width="3.4" stroke-linejoin="round" />
<path d="M633,700 L641,707 M637,746 L643,738 M653.5,702 L650,710 M654,742 L651,735 M630,704 L636,711 M629,738 L634,733" fill="none" stroke="#1c1c1c" stroke-width="2.2" stroke-linejoin="round" />
<path d="M640,691 L646,704 M647,692 L646,704" fill="none" stroke="#1c1c1c" stroke-width="1.6" stroke-linejoin="round" />
<rect x="649" y="703.2" width="8.6" height="4.6" rx="1.6" fill="#fff" stroke="#1c1c1c" stroke-width="1.2"/>
<line x1="641.8" y1="758" x2="636.8" y2="779.4" stroke="#1c1c1c" stroke-width="1"/>
<text x="637.4" y="795.4" text-anchor="middle" fill="#2a2a2a">54</text>
<rect x="663" y="692.1" width="7.4" height="4.2" rx="1.8" fill="#fff" stroke="#1c1c1c" stroke-width="1"/>
<rect x="670" y="690.2" width="2" height="8" rx="1" fill="#1c1c1c" stroke="#1c1c1c" stroke-width=".8"/>
<rect x="671.8" y="690.8" width="4.2" height="6.8" rx="1.6" fill="#fff" stroke="#1c1c1c" stroke-width="1.7"/>
<line x1="673.9" y1="691.2" x2="673.9" y2="697.2" stroke="#1c1c1c" stroke-width="0.9"/>
<rect x="688.8" y="693.7" width="7.4" height="4.2" rx="1.8" fill="#fff" stroke="#1c1c1c" stroke-width="1"/>
<rect x="695.8" y="691.8" width="2" height="8" rx="1" fill="#1c1c1c" stroke="#1c1c1c" stroke-width=".8"/>
<rect x="697.6" y="692.4" width="4.2" height="6.8" rx="1.6" fill="#fff" stroke="#1c1c1c" stroke-width="1.7"/>
<line x1="699.7" y1="692.8" x2="699.7" y2="698.8" stroke="#1c1c1c" stroke-width="0.9"/>
<rect x="669.8" y="711.5" width="7.4" height="4.2" rx="1.8" fill="#fff" stroke="#1c1c1c" stroke-width="1"/>
<rect x="676.8" y="709.6" width="2" height="8" rx="1" fill="#1c1c1c" stroke="#1c1c1c" stroke-width=".8"/>
<rect x="678.6" y="710.2" width="4.2" height="6.8" rx="1.6" fill="#fff" stroke="#1c1c1c" stroke-width="1.7"/>
<line x1="680.7" y1="710.6" x2="680.7" y2="716.6" stroke="#1c1c1c" stroke-width="0.9"/>
<rect x="671.4" y="726.7" width="7.4" height="4.2" rx="1.8" fill="#fff" stroke="#1c1c1c" stroke-width="1"/>
<rect x="678.4" y="724.8" width="2" height="8" rx="1" fill="#1c1c1c" stroke="#1c1c1c" stroke-width=".8"/>
<rect x="680.2" y="725.4" width="4.2" height="6.8" rx="1.6" fill="#fff" stroke="#1c1c1c" stroke-width="1.7"/>
<line x1="682.3" y1="725.8" x2="682.3" y2="731.8" stroke="#1c1c1c" stroke-width="0.9"/>
<rect x="666.7" y="740.4" width="7.4" height="4.2" rx="1.8" fill="#fff" stroke="#1c1c1c" stroke-width="1"/>
<rect x="673.7" y="738.5" width="2" height="8" rx="1" fill="#1c1c1c" stroke="#1c1c1c" stroke-width=".8"/>
<rect x="675.5" y="739.1" width="4.2" height="6.8" rx="1.6" fill="#fff" stroke="#1c1c1c" stroke-width="1.7"/>
<line x1="677.6" y1="739.5" x2="677.6" y2="745.5" stroke="#1c1c1c" stroke-width="0.9"/>
<rect x="657.8" y="750.4" width="7.4" height="4.2" rx="1.8" fill="#fff" stroke="#1c1c1c" stroke-width="1"/>
<rect x="664.8" y="748.5" width="2" height="8" rx="1" fill="#1c1c1c" stroke="#1c1c1c" stroke-width=".8"/>
<rect x="666.6" y="749.1" width="4.2" height="6.8" rx="1.6" fill="#fff" stroke="#1c1c1c" stroke-width="1.7"/>
<line x1="668.7" y1="749.5" x2="668.7" y2="755.5" stroke="#1c1c1c" stroke-width="0.9"/>
<rect x="690.9" y="739.3" width="7.4" height="4.2" rx="1.8" fill="#fff" stroke="#1c1c1c" stroke-width="1"/>
<rect x="697.9" y="737.4" width="2" height="8" rx="1" fill="#1c1c1c" stroke="#1c1c1c" stroke-width=".8"/>
<rect x="699.7" y="738" width="4.2" height="6.8" rx="1.6" fill="#fff" stroke="#1c1c1c" stroke-width="1.7"/>
<line x1="701.8" y1="738.4" x2="701.8" y2="744.4" stroke="#1c1c1c" stroke-width="0.9"/>
<line x1="699.5" y1="746" x2="692.6" y2="768.5" stroke="#1c1c1c" stroke-width="1"/>
<text x="692.6" y="784.2" text-anchor="middle" fill="#2a2a2a">40</text>
<path d="M745.8,710.8 A6.6,11.4 0 0 0 745.8,733.4 L750.8,733.4 L750.8,710.8 Z" fill="#fff" stroke="#1c1c1c" stroke-width="1.2" stroke-linejoin="round" />
<ellipse cx="750.8" cy="722.1" rx="6.6" ry="11.4" fill="#fff" stroke="#1c1c1c" stroke-width="1.3"/>
<ellipse cx="751.4" cy="722.1" rx="3.6" ry="7.2" fill="#fff" stroke="#1c1c1c" stroke-width="2"/>
<ellipse cx="751.8" cy="722.1" rx="1.6" ry="4" fill="#fff" stroke="#1c1c1c" stroke-width="0.8"/>
<line x1="746.5" y1="733.6" x2="741.2" y2="758.2" stroke="#1c1c1c" stroke-width="1"/>
<text x="744.1" y="776.8" text-anchor="middle" fill="#2a2a2a">3</text>
<ellipse cx="209.8" cy="471.9" rx="12.4" ry="10.2" fill="#fff" stroke="#1c1c1c" stroke-width="0.9" transform="rotate(46 209.8 471.9)"/>
<ellipse cx="207.6" cy="474" rx="12.4" ry="10.2" fill="#fff" stroke="#1c1c1c" stroke-width="2.2" transform="rotate(46 207.6 474)"/>
<ellipse cx="207.6" cy="474" rx="7.7" ry="6.3" fill="#fff" stroke="#1c1c1c" stroke-width="2.3" transform="rotate(46 207.6 474)"/>
<ellipse cx="207.6" cy="474" rx="4.5" ry="3.7" fill="#fff" stroke="#1c1c1c" stroke-width="1" transform="rotate(46 207.6 474)"/>
<line x1="204.9" y1="476.6" x2="210.3" y2="471.4" stroke="#1c1c1c" stroke-width="0.9"/>
<line x1="183.7" y1="446.5" x2="200.6" y2="464.6" stroke="#1c1c1c" stroke-width="1"/>
<text x="174.3" y="444.5" text-anchor="middle" fill="#2a2a2a">20</text>
<path d="M236,428.5 C237.9,426.5 241.7,423.4 246,422.6 C250.3,421.8 256.8,422.8 262,423.5 C267.2,424.2 272.5,425 277,427 C281.5,429 286.1,432 289,435.5 C291.9,439 294.2,444 294.6,448 C295,452 293.6,456.5 291.5,459.5 C289.4,462.5 285.5,465.5 282,466.2 C278.5,466.9 275.5,466 270.5,463.5 C265.5,461 257.5,454.8 252,451 C246.5,447.2 240.4,443.8 237.5,441 C234.6,438.2 234.7,436.6 234.4,434.5 C234.2,432.4 234.1,430.5 236,428.5 Z M240.5,431.5 C241.7,430.4 243.4,428.1 247,427.6 C250.6,427.1 257.3,427.8 262,428.5 C266.7,429.2 271.2,430.1 275,431.8 C278.8,433.6 282.6,436.2 285,439 C287.4,441.8 289.1,445.6 289.4,448.6 C289.7,451.6 288.4,454.7 287,456.8 C285.6,458.9 283.4,460.7 281,461 C278.6,461.3 276.8,461.1 272.5,458.8 C268.2,456.5 260.1,450.5 255,447 C249.9,443.5 244.6,440.1 242,438 C239.4,435.9 239.8,435.5 239.6,434.4 C239.3,433.3 239.3,432.6 240.5,431.5 Z" fill="#fff" fill-rule="evenodd" stroke="#1c1c1c" stroke-width="1.2"/>
<path d="M238.2,430 C239.8,428.4 242.5,425.8 246.5,425.1 C250.5,424.4 257.1,425.3 262,426 C266.9,426.7 271.8,427.5 276,429.4 C280.2,431.3 284.3,434.1 287,437.2 C289.7,440.4 291.6,444.8 292,448.3 C292.4,451.8 291,455.6 289.2,458.1 C287.5,460.7 284.5,463.1 281.5,463.6 C278.5,464.1 276.2,463.6 271.5,461.1 C266.8,458.7 258.8,452.6 253.5,449 C248.2,445.4 242.5,441.9 239.8,439.5 C237,437.1 237.2,436 237,434.4 C236.8,432.9 236.7,431.6 238.2,430 Z" fill="none" stroke="#1c1c1c" stroke-width=".8"/>
<line x1="219.7" y1="406" x2="238.5" y2="425.5" stroke="#1c1c1c" stroke-width="1"/>
<text x="213.2" y="404.1" text-anchor="middle" fill="#2a2a2a">21</text>
<line x1="243.5" y1="440" x2="259.5" y2="425" stroke="#1c1c1c" stroke-width="1"/>
<line x1="324" y1="361.5" x2="341.7" y2="345.9" stroke="#1c1c1c" stroke-width="11.600000000000001"/>
<line x1="324" y1="361.5" x2="341.7" y2="345.9" stroke="#fff" stroke-width="9.4"/>
<line x1="341.7" y1="345.9" x2="351" y2="338.2" stroke="#1c1c1c" stroke-width="9.2"/>
<line x1="341.7" y1="345.9" x2="351" y2="338.2" stroke="#222" stroke-width="7"/>
<line x1="334" y1="347.2" x2="340.4" y2="354.6" stroke="#1c1c1c" stroke-width="1"/>
<line x1="331.5" y1="349.5" x2="337.6" y2="356.8" stroke="#1c1c1c" stroke-width="1"/>
<ellipse cx="352.3" cy="337.4" rx="3.6" ry="2.4" fill="#fff" stroke="#1c1c1c" stroke-width="1.1" transform="rotate(46 352.3 337.4)"/>
<ellipse cx="320.2" cy="366.2" rx="13" ry="9.5" fill="#fff" stroke="#1c1c1c" stroke-width="1" transform="rotate(46 320.2 366.2)"/>
<ellipse cx="317.6" cy="368.8" rx="13" ry="9.5" fill="#fff" stroke="#1c1c1c" stroke-width="1.3" transform="rotate(46 317.6 368.8)"/>
<ellipse cx="316.2" cy="370.2" rx="8.6" ry="6" fill="#fff" stroke="#1c1c1c" stroke-width="2" transform="rotate(46 316.2 370.2)"/>
<ellipse cx="316.8" cy="369.4" rx="6.2" ry="4.2" fill="#fff" stroke="#1c1c1c" stroke-width="1" transform="rotate(46 316.8 369.4)"/>
<polygon points="315,386.9 314.5,387.4 312.9,386.5 312.3,386.8 312.4,388.3 311.6,388.5 310.2,387.1 309.5,387.1 308.9,388.3 308,388.1 307.1,386.5 306.4,386.2 305.3,386.9 304.4,386.3 304.1,384.7 303.4,384.2 301.9,384.3 301.2,383.5 301.5,382.1 301,381.4 299.4,380.8 299,379.9 299.9,379 299.6,378.2 298.1,377.1 298,376.2 299.4,375.9 299.4,375.2 298.2,373.7 298.5,373 300.1,373.2 300.4,372.7 299.8,371.1 300.3,370.6 301.9,371.5 302.5,371.2 302.4,369.7 303.2,369.5 304.6,370.9 305.3,370.9 305.9,369.7 306.8,369.9 307.7,371.5 308.4,371.8 309.5,371.1 310.4,371.7 310.7,373.3 311.4,373.8 312.9,373.7 313.6,374.5 313.3,375.9 313.8,376.6 315.4,377.2 315.8,378.1 314.9,379 315.2,379.8 316.7,380.9 316.8,381.8 315.4,382.1 315.4,382.8 316.6,384.3 316.3,385 314.7,384.8 314.4,385.3" fill="#333" stroke="#1c1c1c" stroke-width="1" stroke-linejoin="round"/>
<ellipse cx="306" cy="380.6" rx="10" ry="7" fill="#fff" stroke="#1c1c1c" stroke-width="2.2" transform="rotate(46 306 380.6)"/>
<ellipse cx="305.4" cy="381.2" rx="6.6" ry="4.4" fill="#fff" stroke="#1c1c1c" stroke-width="1.6" transform="rotate(46 305.4 381.2)"/>
<polygon points="308.1,403.7 307.5,404.3 305.7,403.4 305.1,403.8 305.4,405.6 304.7,405.9 303,404.7 302.3,404.9 302.2,406.6 301.3,406.7 299.9,405.1 299.1,405.1 298.6,406.7 297.6,406.5 296.6,404.8 295.7,404.6 294.8,405.8 293.8,405.5 293.1,403.6 292.3,403.2 291,404.1 290.1,403.5 289.9,401.7 289.1,401.1 287.5,401.6 286.7,400.9 286.9,399.2 286.3,398.5 284.5,398.5 283.9,397.6 284.5,396.1 284,395.3 282.2,394.9 281.7,394 282.7,392.8 282.4,391.9 280.6,391.1 280.3,390.1 281.6,389.3 281.5,388.5 279.8,387.3 279.8,386.3 281.4,386 281.5,385.2 280,383.7 280.2,382.8 282,382.9 282.3,382.2 281.2,380.5 281.6,379.7 283.4,380.2 283.8,379.7 283.1,377.9 283.7,377.3 285.5,378.2 286.1,377.8 285.8,376 286.5,375.7 288.2,376.9 288.9,376.7 289,375 289.9,374.9 291.3,376.5 292.1,376.5 292.6,374.9 293.6,375.1 294.6,376.8 295.5,377 296.4,375.8 297.4,376.1 298.1,378 298.9,378.4 300.2,377.5 301.1,378.1 301.3,379.9 302.1,380.5 303.7,380 304.5,380.7 304.3,382.4 304.9,383.1 306.7,383.1 307.3,384 306.7,385.5 307.2,386.3 309,386.7 309.5,387.6 308.5,388.8 308.8,389.7 310.6,390.5 310.9,391.5 309.6,392.3 309.7,393.1 311.4,394.3 311.4,395.3 309.8,395.6 309.7,396.4 311.2,397.9 311,398.8 309.2,398.7 308.9,399.4 310,401.1 309.6,401.9 307.8,401.4 307.4,401.9" fill="#fff" stroke="#1c1c1c" stroke-width="1.2" stroke-linejoin="round"/>
<polygon points="305.7,406.1 305.1,406.7 303.2,405.6 302.6,406 303,408 302.3,408.3 300.6,406.9 299.8,407.1 299.8,409 298.9,409.1 297.5,407.4 296.7,407.4 296.2,409.1 295.2,408.9 294.2,407 293.3,406.8 292.4,408.2 291.4,407.9 290.8,405.9 289.9,405.5 288.6,406.5 287.7,405.9 287.5,404 286.8,403.4 285.1,404 284.3,403.3 284.6,401.5 284,400.8 282.1,400.9 281.5,400 282.2,398.5 281.7,397.7 279.8,397.3 279.3,396.4 280.4,395.2 280.1,394.3 278.2,393.5 277.9,392.5 279.4,391.8 279.3,390.9 277.4,389.7 277.4,388.7 279.2,388.4 279.3,387.6 277.6,386.1 277.8,385.2 279.8,385.4 280,384.7 278.8,382.9 279.2,382.1 281.1,382.8 281.6,382.2 280.7,380.3 281.3,379.7 283.2,380.8 283.8,380.4 283.4,378.4 284.1,378.1 285.8,379.5 286.6,379.3 286.6,377.4 287.5,377.3 288.9,379 289.7,379 290.2,377.3 291.2,377.5 292.2,379.4 293.1,379.6 294,378.2 295,378.5 295.6,380.5 296.5,380.9 297.8,379.9 298.7,380.5 298.9,382.4 299.6,383 301.3,382.4 302.1,383.1 301.8,384.9 302.4,385.6 304.3,385.5 304.9,386.4 304.2,387.9 304.7,388.7 306.6,389.1 307.1,390 306,391.2 306.3,392.1 308.2,392.9 308.5,393.9 307,394.6 307.1,395.5 309,396.7 309,397.7 307.2,398 307.1,398.8 308.8,400.3 308.6,401.2 306.6,401 306.4,401.7 307.6,403.5 307.2,404.3 305.3,403.6 304.8,404.2" fill="#fff" stroke="#1c1c1c" stroke-width="1.8" stroke-linejoin="round"/>
<ellipse cx="293.2" cy="393.2" rx="14.6" ry="10.6" fill="none" stroke="#1c1c1c" stroke-width="0.9" transform="rotate(46 293.2 393.2)"/>
<ellipse cx="290.6" cy="395.8" rx="6" ry="4.6" fill="#fff" stroke="#1c1c1c" stroke-width="2.6" transform="rotate(46 290.6 395.8)"/>
<ellipse cx="289.4" cy="397" rx="3.4" ry="2.6" fill="#fff" stroke="#1c1c1c" stroke-width="1.6" transform="rotate(46 289.4 397)"/>
<ellipse cx="288.2" cy="398.2" rx="1.6" ry="1.2" fill="#fff" stroke="#1c1c1c" stroke-width="1" transform="rotate(46 288.2 398.2)"/>
<line x1="290.8" y1="341" x2="309.7" y2="358.1" stroke="#1c1c1c" stroke-width="1"/>
<text x="283.3" y="340.4" text-anchor="middle" fill="#2a2a2a">22</text>
<ellipse cx="378.8" cy="311.3" rx="12.8" ry="10.4" fill="#fff" stroke="#1c1c1c" stroke-width="0.9" transform="rotate(46 378.8 311.3)"/>
<ellipse cx="376.6" cy="313.4" rx="12.8" ry="10.4" fill="#fff" stroke="#1c1c1c" stroke-width="2.2" transform="rotate(46 376.6 313.4)"/>
<ellipse cx="376.6" cy="313.4" rx="7.9" ry="6.4" fill="#fff" stroke="#1c1c1c" stroke-width="2.3" transform="rotate(46 376.6 313.4)"/>
<ellipse cx="376.6" cy="313.4" rx="4.6" ry="3.7" fill="#fff" stroke="#1c1c1c" stroke-width="1" transform="rotate(46 376.6 313.4)"/>
<line x1="373.8" y1="316.1" x2="379.4" y2="310.7" stroke="#1c1c1c" stroke-width="0.9"/>
<line x1="349.3" y1="283" x2="367.7" y2="301.2" stroke="#1c1c1c" stroke-width="1"/>
<text x="342" y="281.4" text-anchor="middle" fill="#2a2a2a">23</text>
<ellipse cx="412.6" cy="278.6" rx="11.2" ry="9.2" fill="#fff" stroke="#1c1c1c" stroke-width="1" transform="rotate(46 412.6 278.6)"/>
<ellipse cx="410.8" cy="280.4" rx="11.2" ry="9.2" fill="#fff" stroke="#1c1c1c" stroke-width="1.9" transform="rotate(46 410.8 280.4)"/>
<ellipse cx="410.8" cy="280.4" rx="8" ry="6.2" fill="#fff" stroke="#1c1c1c" stroke-width="1.4" transform="rotate(46 410.8 280.4)"/>
<ellipse cx="410.8" cy="280.4" rx="5" ry="3.6" fill="#fff" stroke="#1c1c1c" stroke-width="1" transform="rotate(46 410.8 280.4)"/>
<line x1="405.5" y1="285.5" x2="416" y2="275.5" stroke="#1c1c1c" stroke-width="0.9"/>
<line x1="383.6" y1="251.5" x2="401.2" y2="269.9" stroke="#1c1c1c" stroke-width="1"/>
<text x="378.6" y="249.9" text-anchor="middle" fill="#2a2a2a">3</text>
<ellipse cx="383.5" cy="519.2" rx="14.6" ry="12" fill="#fff" stroke="#1c1c1c" stroke-width="0.9" transform="rotate(46 383.5 519.2)"/>
<ellipse cx="380.6" cy="522" rx="14.6" ry="12" fill="#fff" stroke="#1c1c1c" stroke-width="2.2" transform="rotate(46 380.6 522)"/>
<ellipse cx="380.6" cy="522" rx="9.1" ry="7.4" fill="#fff" stroke="#1c1c1c" stroke-width="2.3" transform="rotate(46 380.6 522)"/>
<ellipse cx="380.6" cy="522" rx="5.3" ry="4.3" fill="#fff" stroke="#1c1c1c" stroke-width="1" transform="rotate(46 380.6 522)"/>
<line x1="377.4" y1="525" x2="383.8" y2="519" stroke="#1c1c1c" stroke-width="0.9"/>
<ellipse cx="380.6" cy="522" rx="6.6" ry="5.2" fill="#bbb" stroke="#1c1c1c" stroke-width="1" transform="rotate(46 380.6 522)"/>
<line x1="351.3" y1="489.7" x2="371" y2="509.1" stroke="#1c1c1c" stroke-width="1"/>
<text x="343.8" y="487.3" text-anchor="middle" fill="#2a2a2a">24</text>
<path d="M396.6,476.5 C397,473.7 397.9,469.6 399.5,467 C401.1,464.4 402.9,462.2 406.2,461 C409.5,459.8 412.3,458.7 419.4,459.6 C426.5,460.5 440.9,463.6 448.8,466.2 C456.7,468.8 462,472.4 466.5,475 C471,477.6 473.9,479.4 476,482 C478.1,484.6 478.8,487 478.8,490.5 C478.8,494 478,499.6 476,502.9 C474,506.2 471,509.2 467,510.4 C463,511.6 459.2,511.6 451.8,510.3 C444.4,509.1 430.2,505.6 422.4,502.9 C414.5,500.2 408.9,497.3 404.7,494.1 C400.5,490.9 398.8,486.7 397.4,483.8 C396,480.9 396.2,479.3 396.6,476.5 Z M401.4,477 C401.7,474.8 402.4,471.5 403.6,469.6 C404.8,467.7 405.8,466.3 408.4,465.4 C411,464.5 412.9,463.5 419.4,464.4 C425.9,465.3 440.1,468.4 447.5,470.8 C454.9,473.2 459.6,476.4 463.6,478.8 C467.6,481.2 469.8,483 471.5,485 C473.2,487 473.8,488.4 473.8,491 C473.8,493.6 473.1,497.9 471.6,500.4 C470.1,502.9 468.2,504.9 465,505.8 C461.8,506.7 459.2,506.8 452.4,505.6 C445.6,504.4 431.4,500.9 424,498.4 C416.6,495.9 411.7,493 408,490.4 C404.3,487.8 403.1,485 402,482.8 C400.9,480.6 401.1,479.2 401.4,477 Z" fill="#fff" fill-rule="evenodd" stroke="#1c1c1c" stroke-width="1.2"/>
<path d="M399,476.8 C399.3,474.2 400.2,470.6 401.6,468.3 C402.9,466 404.3,464.2 407.3,463.2 C410.3,462.1 412.6,461.1 419.4,462 C426.2,462.9 440.5,466 448.1,468.5 C455.8,471 460.8,474.4 465.1,476.9 C469.3,479.4 471.9,481.2 473.8,483.5 C475.6,485.8 476.3,487.7 476.3,490.8 C476.3,493.8 475.5,498.8 473.8,501.6 C472.1,504.5 469.6,507.1 466,508.1 C462.4,509.2 459.2,509.2 452.1,508 C445,506.7 430.8,503.3 423.2,500.6 C415.6,498 410.3,495.1 406.4,492.2 C402.4,489.4 400.9,485.9 399.7,483.3 C398.5,480.7 398.7,479.2 399,476.8 Z" fill="none" stroke="#1c1c1c" stroke-width=".8"/>
<line x1="417.2" y1="485.3" x2="434.1" y2="470.6" stroke="#1c1c1c" stroke-width="1"/>
<line x1="384.6" y1="442.5" x2="404.5" y2="462.2" stroke="#1c1c1c" stroke-width="1"/>
<text x="377.3" y="439.9" text-anchor="middle" fill="#2a2a2a">25</text>
<polyline points="477.3,449 480.2,453.4 479.4,454.4 478,454.7 474.8,450.5" fill="#fff" stroke="#1c1c1c" stroke-width="1.5" stroke-linejoin="round"/>
<polyline points="473.4,451 474.7,455.8 473.5,456.4 472,456.2 470.3,451.4" fill="#fff" stroke="#1c1c1c" stroke-width="1.5" stroke-linejoin="round"/>
<polyline points="468.8,451.3 468.3,455.9 466.9,456 465.5,455.2 465.5,450.4" fill="#fff" stroke="#1c1c1c" stroke-width="1.5" stroke-linejoin="round"/>
<polyline points="464,449.8 461.8,453.6 460.4,453.1 459.2,451.9 461,447.9" fill="#fff" stroke="#1c1c1c" stroke-width="1.5" stroke-linejoin="round"/>
<polyline points="459.8,446.7 456.2,449.2 454.9,448.2 454.2,446.8 457.5,444" fill="#fff" stroke="#1c1c1c" stroke-width="1.5" stroke-linejoin="round"/>
<polyline points="456.6,442.5 452.1,443.3 451.1,442 451,440.5 455.3,439.3" fill="#fff" stroke="#1c1c1c" stroke-width="1.5" stroke-linejoin="round"/>
<polyline points="455,437.7 450.2,436.7 449.7,435.2 450.1,433.9 454.9,434.5" fill="#fff" stroke="#1c1c1c" stroke-width="1.5" stroke-linejoin="round"/>
<polyline points="455.1,433 450.6,430.4 450.7,428.9 451.5,427.9 456.2,430.2" fill="#fff" stroke="#1c1c1c" stroke-width="1.5" stroke-linejoin="round"/>
<polyline points="457,429 453.4,425 454,423.8 455.3,423.3 459.1,426.9" fill="#fff" stroke="#1c1c1c" stroke-width="1.5" stroke-linejoin="round"/>
<polyline points="460.3,426.2 458.2,421.5 459.2,420.7 460.7,420.7 463.1,425.2" fill="#fff" stroke="#1c1c1c" stroke-width="1.5" stroke-linejoin="round"/>
<polyline points="464.6,425 464.2,420.2 465.6,419.9 467,420.4 467.9,425.3" fill="#fff" stroke="#1c1c1c" stroke-width="1.5" stroke-linejoin="round"/>
<polyline points="469.4,425.7 470.8,421.4 472.3,421.6 473.5,422.6 472.6,427.1" fill="#fff" stroke="#1c1c1c" stroke-width="1.5" stroke-linejoin="round"/>
<polyline points="474,428 477,424.8 478.4,425.5 479.3,426.9 476.7,430.4" fill="#fff" stroke="#1c1c1c" stroke-width="1.5" stroke-linejoin="round"/>
<polyline points="477.8,431.7 481.9,430 483,431.2 483.5,432.7 479.6,434.7" fill="#fff" stroke="#1c1c1c" stroke-width="1.5" stroke-linejoin="round"/>
<polyline points="480.2,436.3 485,436.4 485.7,437.8 485.6,439.2 480.9,439.5" fill="#fff" stroke="#1c1c1c" stroke-width="1.5" stroke-linejoin="round"/>
<polyline points="481,441.1 485.7,442.9 485.9,444.4 485.3,445.6 480.5,444.2" fill="#fff" stroke="#1c1c1c" stroke-width="1.5" stroke-linejoin="round"/>
<polyline points="480,445.5 484.1,448.9 483.7,450.2 482.7,451.1 478.4,448" fill="#fff" stroke="#1c1c1c" stroke-width="1.5" stroke-linejoin="round"/>
<ellipse cx="467.9" cy="438.2" rx="14.8" ry="12.1" fill="#fff" stroke="#1c1c1c" stroke-width="1.5" transform="rotate(46 467.9 438.2)"/>
<ellipse cx="467.4" cy="438.8" rx="11" ry="9" fill="#fff" stroke="#1c1c1c" stroke-width="1.1" transform="rotate(46 467.4 438.8)"/>
<ellipse cx="466.8" cy="439.4" rx="9.4" ry="7.6" fill="#fff" stroke="#1c1c1c" stroke-width="1.8" transform="rotate(46 466.8 439.4)"/>
<ellipse cx="466" cy="440" rx="6.8" ry="5.4" fill="#9a9a9a" stroke="#1c1c1c" stroke-width="1.6" transform="rotate(46 466 440)"/>
<ellipse cx="467.6" cy="438.6" rx="3.4" ry="2.4" fill="#e8e8e8" stroke="none" stroke-width="0" transform="rotate(46 467.6 438.6)"/>
<line x1="432.9" y1="403.7" x2="453.3" y2="422.5" stroke="#1c1c1c" stroke-width="1"/>
<text x="425.6" y="402" text-anchor="middle" fill="#2a2a2a">26</text>
<line x1="497.5" y1="406.8" x2="522.5" y2="384.4" stroke="#1c1c1c" stroke-width="12.8"/>
<line x1="497.5" y1="406.8" x2="522.5" y2="384.4" stroke="#fff" stroke-width="10.6"/>
<line x1="505.5" y1="399.6" x2="517" y2="389.4" stroke="#1c1c1c" stroke-width="12.8"/>
<line x1="505.5" y1="399.6" x2="517" y2="389.4" stroke="#2a2a2a" stroke-width="10.6"/>
<line x1="509.4" y1="390.6" x2="516.6" y2="398.6" stroke="#fff" stroke-width="2.2"/>
<line x1="504.6" y1="395" x2="511.6" y2="403" stroke="#ccc" stroke-width="1.2"/>
<ellipse cx="523.6" cy="383.4" rx="5.8" ry="3.6" fill="#fff" stroke="#1c1c1c" stroke-width="1.1" transform="rotate(46 523.6 383.4)"/>
<ellipse cx="496.4" cy="407.8" rx="6" ry="4.6" fill="#fff" stroke="#1c1c1c" stroke-width="1.3" transform="rotate(46 496.4 407.8)"/>
<ellipse cx="496" cy="408.2" rx="3.4" ry="2.6" fill="#777" stroke="#1c1c1c" stroke-width="1" transform="rotate(46 496 408.2)"/>
<line x1="485.1" y1="376.3" x2="502.9" y2="392.8" stroke="#1c1c1c" stroke-width="1"/>
<text x="478.4" y="374.6" text-anchor="middle" fill="#2a2a2a">27</text>
<ellipse cx="564.2" cy="345.4" rx="43" ry="30" fill="#fff" stroke="#1c1c1c" stroke-width="1.2" transform="rotate(46 564.2 345.4)"/>
<ellipse cx="562.7" cy="346.7" rx="42.2" ry="29.4" fill="#fff" stroke="#1c1c1c" stroke-width="3.4" stroke-dasharray="1 .8" transform="rotate(46 562.7 346.7)"/>
<ellipse cx="562.7" cy="346.7" rx="40.2" ry="27.6" fill="none" stroke="#1c1c1c" stroke-width="1" transform="rotate(46 562.7 346.7)"/>
<ellipse cx="562.7" cy="346.7" rx="35" ry="23.6" fill="none" stroke="#1c1c1c" stroke-width="2.2" transform="rotate(46 562.7 346.7)"/>
<ellipse cx="562.7" cy="346.7" rx="32.6" ry="21.6" fill="none" stroke="#1c1c1c" stroke-width="1" transform="rotate(46 562.7 346.7)"/>
<ellipse cx="560.8" cy="347.4" rx="12.2" ry="9.8" fill="#e2e2e2" stroke="#1c1c1c" stroke-width="1.2" transform="rotate(46 560.8 347.4)"/>
<ellipse cx="560.2" cy="348" rx="10.2" ry="8" fill="#c4c4c4" stroke="#1c1c1c" stroke-width="1.4" transform="rotate(46 560.2 348)"/>
<ellipse cx="559.6" cy="348.6" rx="7.6" ry="5.8" fill="#8a8a8a" stroke="#1c1c1c" stroke-width="1.5" transform="rotate(46 559.6 348.6)"/>
<ellipse cx="559.2" cy="349" rx="4.6" ry="3.4" fill="#555" stroke="#1c1c1c" stroke-width="1.1" transform="rotate(46 559.2 349)"/>
<ellipse cx="561.6" cy="346.8" rx="2.6" ry="2" fill="#eee" stroke="#1c1c1c" stroke-width="0.8" transform="rotate(46 561.6 346.8)"/>
<line x1="549.5" y1="358.6" x2="560" y2="348.4" stroke="#1c1c1c" stroke-width="1.2"/>
<line x1="512.8" y1="301.3" x2="531.5" y2="319.2" stroke="#1c1c1c" stroke-width="1"/>
<text x="505.5" y="299.6" text-anchor="middle" fill="#2a2a2a">28</text>
<ellipse cx="607.7" cy="303" rx="15" ry="12" fill="#fff" stroke="#1c1c1c" stroke-width="0.9" transform="rotate(46 607.7 303)"/>
<ellipse cx="604.8" cy="305.8" rx="15" ry="12" fill="#fff" stroke="#1c1c1c" stroke-width="2.2" transform="rotate(46 604.8 305.8)"/>
<ellipse cx="604.8" cy="305.8" rx="9.3" ry="7.4" fill="#fff" stroke="#1c1c1c" stroke-width="2.3" transform="rotate(46 604.8 305.8)"/>
<ellipse cx="604.8" cy="305.8" rx="5.4" ry="4.3" fill="#fff" stroke="#1c1c1c" stroke-width="1" transform="rotate(46 604.8 305.8)"/>
<line x1="601.6" y1="308.9" x2="608" y2="302.7" stroke="#1c1c1c" stroke-width="0.9"/>
<line x1="574.9" y1="274.9" x2="594.7" y2="292.4" stroke="#1c1c1c" stroke-width="1"/>
<text x="567.6" y="273.2" text-anchor="middle" fill="#2a2a2a">24</text>
<polygon points="650,164.5 655,159 662.3,155.5 669,150.5 676,146.5 680,143 689.6,143.7 695,141.6 703.3,142.3 709,144.5 714.2,143.7 721,141.5 729.2,140.9 736,142.3 739.5,147.8 739,154 741,161.5 748.3,166.9 749.7,175.1 746,183 739.5,189 741,200 744.2,208.2 751.1,219.1 752.4,239.6 756.5,245.1 755.2,254.6 751.1,261.4 740,264.5 730.6,265.5 723.8,269.6 711.5,269.6 700.5,274.4 695.1,276.5 689.6,271 670.5,264.2 662.3,258.7 655,249 648.7,239.6 641.1,231.4 640.4,218 641.1,205.5 644,196 646,186 649.5,172" fill="#fff" stroke="#1c1c1c" stroke-width="2" stroke-linejoin="round"/>
<polygon points="656.5,169.5 665,161 677,153.5 684,149.5 690,150.5 697,148.5 703,149.5 708,153 716,154 721,158 722.5,164 720.5,172 721.5,181 727,186 733,196 739,206.5 745,220 746,238.5 749.5,246.5 748,255 743,258.5 731,259.5 722,263.5 711,263.5 700,268 695.5,269 691,265 673,258.5 667,254 660,245 653,235.5 647.5,228.5 647,207.5 650,197 652,187.5 655,176" fill="none" stroke="#1c1c1c" stroke-width="1.5" stroke-linejoin="round"/>
<ellipse cx="678.7" cy="150.5" rx="2.5" ry="2.1" fill="#fff" stroke="#1c1c1c" stroke-width="1.4"/>
<ellipse cx="706.7" cy="150.5" rx="2.5" ry="2.1" fill="#fff" stroke="#1c1c1c" stroke-width="1.4"/>
<ellipse cx="653.4" cy="167.6" rx="2.5" ry="2.1" fill="#fff" stroke="#1c1c1c" stroke-width="1.4"/>
<ellipse cx="724.4" cy="177.1" rx="2.5" ry="2.1" fill="#fff" stroke="#1c1c1c" stroke-width="1.4"/>
<ellipse cx="648" cy="193.5" rx="2.5" ry="2.1" fill="#fff" stroke="#1c1c1c" stroke-width="1.4"/>
<ellipse cx="643.9" cy="205.1" rx="2.5" ry="2.1" fill="#fff" stroke="#1c1c1c" stroke-width="1.4"/>
<ellipse cx="644.6" cy="230.6" rx="2.5" ry="2.1" fill="#fff" stroke="#1c1c1c" stroke-width="1.4"/>
<ellipse cx="666.4" cy="259.4" rx="2.5" ry="2.1" fill="#fff" stroke="#1c1c1c" stroke-width="1.4"/>
<ellipse cx="695.1" cy="272.6" rx="2.5" ry="2.1" fill="#fff" stroke="#1c1c1c" stroke-width="1.4"/>
<ellipse cx="711.5" cy="266.7" rx="2.5" ry="2.1" fill="#fff" stroke="#1c1c1c" stroke-width="1.4"/>
<ellipse cx="723.8" cy="266.3" rx="2.5" ry="2.1" fill="#fff" stroke="#1c1c1c" stroke-width="1.4"/>
<ellipse cx="751.4" cy="248.4" rx="2.5" ry="2.1" fill="#fff" stroke="#1c1c1c" stroke-width="1.4"/>
<ellipse cx="744.8" cy="214.7" rx="2.5" ry="2.1" fill="#fff" stroke="#1c1c1c" stroke-width="1.4"/>
<ellipse cx="654.4" cy="247" rx="2.5" ry="2.1" fill="#fff" stroke="#1c1c1c" stroke-width="1.4"/>
<ellipse cx="733" cy="191" rx="2.5" ry="2.1" fill="#fff" stroke="#1c1c1c" stroke-width="1.4"/>
<ellipse cx="682" cy="263.6" rx="2.5" ry="2.1" fill="#fff" stroke="#1c1c1c" stroke-width="1.4"/>
<path d="M714.2,143.7 L716,150 L724,158 L730.6,165.5 L736.7,157.3 L739.5,147.8 M729.2,140.9 L730.5,150 L724,158 M730.5,150 L738,147 M733,162.5 L741,161.5 M731,168 L739,172 L746,183 M739,172 L748.3,166.9" fill="none" stroke="#1c1c1c" stroke-width="1.5" stroke-linejoin="round" />
<path d="M718,147 L727,145 M722,152 L729,150 M734,166 L743,170 M735.5,176 L744,179" fill="none" stroke="#1c1c1c" stroke-width="1.2" stroke-linejoin="round" />
<ellipse cx="687.6" cy="167.6" rx="14.4" ry="13.2" fill="#fff" stroke="#1c1c1c" stroke-width="1.5" transform="rotate(30 687.6 167.6)"/>
<ellipse cx="688.3" cy="166.9" rx="12.4" ry="11.2" fill="#fff" stroke="#1c1c1c" stroke-width="3.4" transform="rotate(30 688.3 166.9)"/>
<ellipse cx="689.6" cy="165.4" rx="8.8" ry="7.8" fill="#fff" stroke="#1c1c1c" stroke-width="1.5" transform="rotate(30 689.6 165.4)"/>
<path d="M681,171.5 Q686,179 695.5,174.5 M679.5,168 Q683,181 697,177" fill="none" stroke="#1c1c1c" stroke-width="1.2" stroke-linejoin="round" />
<ellipse cx="715.6" cy="177.8" rx="8.8" ry="8.2" fill="#fff" stroke="#1c1c1c" stroke-width="3"/>
<ellipse cx="716.6" cy="176.8" rx="5.4" ry="4.8" fill="#fff" stroke="#1c1c1c" stroke-width="1.2"/>
<path d="M704,160 L712,165 L720.5,166 M702,166.5 L708.5,171.5 M700.5,175 L707,180.5 L709,188 M722.5,163 L715,168 L716,160 M703,154 L708,159" fill="none" stroke="#1c1c1c" stroke-width="1.8" stroke-linejoin="round" />
<path d="M707,170 L718.5,171.5 L722,168" fill="none" stroke="#1c1c1c" stroke-width="3" stroke-linejoin="round" />
<path d="M656.5,169.5 L662,171 L668,181 L672,196 M665,161 L670,165 L676,176 M668,181 L676,176 L683,178.5 M660,176 L664,192 M672,196 L680,199 L690,209.5 M676,183 L686,186 L696,182" fill="none" stroke="#1c1c1c" stroke-width="1.5" stroke-linejoin="round" />
<path d="M684,149.5 L686,153.5 L697,154 L703,149.5 M672,156.5 L676,162 M662,171 L665,161" fill="none" stroke="#1c1c1c" stroke-width="1.3" stroke-linejoin="round" />
<path d="M655,196 L668,192 L674,200 L676,214 L670,226 L660,228 L652,220 L651,206 Z" fill="#2e2e2e" stroke="#1c1c1c" stroke-width="1.4" stroke-linejoin="round" />
<line x1="655" y1="198" x2="654" y2="224" stroke="#ddd" stroke-width="0.8"/>
<line x1="658.2" y1="197.4" x2="657.4" y2="224.4" stroke="#ddd" stroke-width="0.8"/>
<line x1="661.4" y1="196.8" x2="660.8" y2="224.8" stroke="#ddd" stroke-width="0.8"/>
<line x1="664.6" y1="196.2" x2="664.2" y2="225.2" stroke="#ddd" stroke-width="0.8"/>
<line x1="667.8" y1="195.6" x2="667.6" y2="225.6" stroke="#ddd" stroke-width="0.8"/>
<line x1="671" y1="195" x2="671" y2="226" stroke="#ddd" stroke-width="0.8"/>
<path d="M651,206 L676,206 M652,214 L676,214" fill="none" stroke="#ddd" stroke-width="0.9" stroke-linejoin="round" />
<path d="M648,193.5 L655,196 M647.5,228.5 L652,220 M660,228 L664,238 L672,246 M670,226 L678,232 M674,200 L682,204 L686,212 M676,214 L682,218" fill="none" stroke="#1c1c1c" stroke-width="1.6" stroke-linejoin="round" />
<ellipse cx="690.4" cy="224" rx="14.4" ry="13.4" fill="#fff" stroke="#1c1c1c" stroke-width="1.5" transform="rotate(30 690.4 224)"/>
<ellipse cx="691" cy="223.2" rx="12.6" ry="11.6" fill="#fff" stroke="#1c1c1c" stroke-width="3.6" transform="rotate(30 691 223.2)"/>
<ellipse cx="692.4" cy="221.6" rx="9" ry="8.2" fill="#fff" stroke="#1c1c1c" stroke-width="1.5" transform="rotate(30 692.4 221.6)"/>
<path d="M683.5,228 Q689,236 699.5,230.5 M681.5,225 Q686,239 701,234" fill="none" stroke="#1c1c1c" stroke-width="1.2" stroke-linejoin="round" />
<path d="M664,238 Q672,252 690,258 L700,262 M660,245 L668,250 Q682,262 695,264 M678,232 Q682,246 697,250 L703.5,256.5 M653,235.5 L664,238" fill="none" stroke="#1c1c1c" stroke-width="1.4" stroke-linejoin="round" />
<path d="M676,245 L681,236 M688,257 L690,244 M697,262 L700,250" fill="none" stroke="#1c1c1c" stroke-width="3" stroke-linejoin="round" />
<line x1="703.3" y1="232.8" x2="722.4" y2="260.1" stroke="#1c1c1c" stroke-width="3.2"/>
<line x1="700.5" y1="250.5" x2="719" y2="262" stroke="#1c1c1c" stroke-width="3.2"/>
<line x1="711.5" y1="251.9" x2="742.9" y2="221.8" stroke="#1c1c1c" stroke-width="3.2"/>
<line x1="719.7" y1="239.6" x2="747" y2="239.6" stroke="#1c1c1c" stroke-width="3.2"/>
<line x1="722.4" y1="245.1" x2="731" y2="257" stroke="#1c1c1c" stroke-width="3.2"/>
<line x1="736" y1="224.6" x2="730.6" y2="250.5" stroke="#1c1c1c" stroke-width="3.2"/>
<line x1="704" y1="214" x2="736" y2="224.6" stroke="#1c1c1c" stroke-width="3.2"/>
<line x1="708" y1="204" x2="728" y2="209" stroke="#1c1c1c" stroke-width="3.2"/>
<line x1="700" y1="240" x2="712" y2="252" stroke="#1c1c1c" stroke-width="3.2"/>
<line x1="728" y1="209" x2="739" y2="206.5" stroke="#1c1c1c" stroke-width="3.2"/>
<line x1="712" y1="230" x2="724" y2="226" stroke="#1c1c1c" stroke-width="3.2"/>
<path d="M701,198 L709,202 L706,210 L716,214 L712,222 M718,196 L726,201 L722,208 M703,188 L713,190 L724,197 M696,192 L702,196" fill="none" stroke="#1c1c1c" stroke-width="2" stroke-linejoin="round" />
<path d="M707,205 L716,199 L720,206 Z" fill="#222" stroke="#1c1c1c" stroke-width="1.2" stroke-linejoin="round" />
<circle cx="740.1" cy="254.6" r="5.6" fill="#fff" stroke="#1c1c1c" stroke-width="1.8"/>
<ellipse cx="740.6" cy="254.8" rx="3.2" ry="2.6" fill="#fff" stroke="#1c1c1c" stroke-width="1.2" transform="rotate(30 740.6 254.8)"/>
<path d="M727,186 L733,183 L739.5,189 M733,196 L741,200 M745,220 L751.1,219.1 M746,238.5 L752.4,239.6 M739,206.5 L744.2,208.2" fill="none" stroke="#1c1c1c" stroke-width="1.4" stroke-linejoin="round" />
<line x1="646" y1="137.8" x2="663" y2="154.8" stroke="#1c1c1c" stroke-width="1"/>
<text x="635.3" y="133.2" text-anchor="middle" fill="#2a2a2a">30</text>
<line x1="689.9" y1="132.7" x2="694.6" y2="128.3" stroke="#1c1c1c" stroke-width="4.8" stroke-linecap="round"/>
<line x1="689.9" y1="132.7" x2="694.6" y2="128.3" stroke="#fff" stroke-width="2.4" stroke-linecap="round"/>
<ellipse cx="696.1" cy="126.8" rx="3" ry="3.1" fill="#fff" stroke="#1c1c1c" stroke-width="1.6" transform="rotate(-44 696.1 126.8)"/>
<ellipse cx="694.6" cy="128.3" rx="1.5" ry="3.9" fill="#fff" stroke="#1c1c1c" stroke-width="1.7" transform="rotate(-44 694.6 128.3)"/>
<line x1="695.4" y1="125.5" x2="697.4" y2="127.5" stroke="#1c1c1c" stroke-width="1"/>
<line x1="709.7" y1="119.9" x2="714.4" y2="115.5" stroke="#1c1c1c" stroke-width="4.8" stroke-linecap="round"/>
<line x1="709.7" y1="119.9" x2="714.4" y2="115.5" stroke="#fff" stroke-width="2.4" stroke-linecap="round"/>
<ellipse cx="715.9" cy="114" rx="3" ry="3.1" fill="#fff" stroke="#1c1c1c" stroke-width="1.6" transform="rotate(-44 715.9 114)"/>
<ellipse cx="714.4" cy="115.5" rx="1.5" ry="3.9" fill="#fff" stroke="#1c1c1c" stroke-width="1.7" transform="rotate(-44 714.4 115.5)"/>
<line x1="715.2" y1="112.7" x2="717.2" y2="114.7" stroke="#1c1c1c" stroke-width="1"/>
<line x1="730.5" y1="127.5" x2="735.2" y2="123.1" stroke="#1c1c1c" stroke-width="4.8" stroke-linecap="round"/>
<line x1="730.5" y1="127.5" x2="735.2" y2="123.1" stroke="#fff" stroke-width="2.4" stroke-linecap="round"/>
<ellipse cx="736.7" cy="121.6" rx="3" ry="3.1" fill="#fff" stroke="#1c1c1c" stroke-width="1.6" transform="rotate(-44 736.7 121.6)"/>
<ellipse cx="735.2" cy="123.1" rx="1.5" ry="3.9" fill="#fff" stroke="#1c1c1c" stroke-width="1.7" transform="rotate(-44 735.2 123.1)"/>
<line x1="736" y1="120.3" x2="738" y2="122.3" stroke="#1c1c1c" stroke-width="1"/>
<line x1="750.7" y1="152.1" x2="755.4" y2="147.7" stroke="#1c1c1c" stroke-width="4.8" stroke-linecap="round"/>
<line x1="750.7" y1="152.1" x2="755.4" y2="147.7" stroke="#fff" stroke-width="2.4" stroke-linecap="round"/>
<ellipse cx="756.9" cy="146.2" rx="3" ry="3.1" fill="#fff" stroke="#1c1c1c" stroke-width="1.6" transform="rotate(-44 756.9 146.2)"/>
<ellipse cx="755.4" cy="147.7" rx="1.5" ry="3.9" fill="#fff" stroke="#1c1c1c" stroke-width="1.7" transform="rotate(-44 755.4 147.7)"/>
<line x1="756.2" y1="144.9" x2="758.2" y2="146.9" stroke="#1c1c1c" stroke-width="1"/>
<line x1="759.9" y1="201.1" x2="764.6" y2="196.7" stroke="#1c1c1c" stroke-width="4.8" stroke-linecap="round"/>
<line x1="759.9" y1="201.1" x2="764.6" y2="196.7" stroke="#fff" stroke-width="2.4" stroke-linecap="round"/>
<ellipse cx="766.1" cy="195.2" rx="3" ry="3.1" fill="#fff" stroke="#1c1c1c" stroke-width="1.6" transform="rotate(-44 766.1 195.2)"/>
<ellipse cx="764.6" cy="196.7" rx="1.5" ry="3.9" fill="#fff" stroke="#1c1c1c" stroke-width="1.7" transform="rotate(-44 764.6 196.7)"/>
<line x1="765.4" y1="193.9" x2="767.4" y2="195.9" stroke="#1c1c1c" stroke-width="1"/>
<line x1="756.5" y1="232.7" x2="761.2" y2="228.3" stroke="#1c1c1c" stroke-width="4.8" stroke-linecap="round"/>
<line x1="756.5" y1="232.7" x2="761.2" y2="228.3" stroke="#fff" stroke-width="2.4" stroke-linecap="round"/>
<ellipse cx="762.7" cy="226.8" rx="3" ry="3.1" fill="#fff" stroke="#1c1c1c" stroke-width="1.6" transform="rotate(-44 762.7 226.8)"/>
<ellipse cx="761.2" cy="228.3" rx="1.5" ry="3.9" fill="#fff" stroke="#1c1c1c" stroke-width="1.7" transform="rotate(-44 761.2 228.3)"/>
<line x1="762" y1="225.5" x2="764" y2="227.5" stroke="#1c1c1c" stroke-width="1"/>
<line x1="790.5" y1="225.1" x2="795.2" y2="220.7" stroke="#1c1c1c" stroke-width="4.8" stroke-linecap="round"/>
<line x1="790.5" y1="225.1" x2="795.2" y2="220.7" stroke="#fff" stroke-width="2.4" stroke-linecap="round"/>
<ellipse cx="796.7" cy="219.2" rx="3" ry="3.1" fill="#fff" stroke="#1c1c1c" stroke-width="1.6" transform="rotate(-44 796.7 219.2)"/>
<ellipse cx="795.2" cy="220.7" rx="1.5" ry="3.9" fill="#fff" stroke="#1c1c1c" stroke-width="1.7" transform="rotate(-44 795.2 220.7)"/>
<line x1="796" y1="217.9" x2="798" y2="219.9" stroke="#1c1c1c" stroke-width="1"/>
<line x1="708.1" y1="280.9" x2="703.4" y2="285.3" stroke="#1c1c1c" stroke-width="4.8" stroke-linecap="round"/>
<line x1="708.1" y1="280.9" x2="703.4" y2="285.3" stroke="#fff" stroke-width="2.4" stroke-linecap="round"/>
<ellipse cx="701.9" cy="286.8" rx="3" ry="3.1" fill="#fff" stroke="#1c1c1c" stroke-width="1.6" transform="rotate(136 701.9 286.8)"/>
<ellipse cx="703.4" cy="285.3" rx="1.5" ry="3.9" fill="#fff" stroke="#1c1c1c" stroke-width="1.7" transform="rotate(136 703.4 285.3)"/>
<line x1="702.6" y1="288.1" x2="700.6" y2="286.1" stroke="#1c1c1c" stroke-width="1"/>
<line x1="708" y1="281" x2="722" y2="268" stroke="#1c1c1c" stroke-width="1"/>
<line x1="670.6" y1="109.5" x2="689" y2="125.6" stroke="#1c1c1c" stroke-width="1"/>
<text x="659.3" y="103.5" text-anchor="middle" fill="#2a2a2a">31</text>
<circle cx="632.4" cy="187.9" r="2.6" fill="#fff" stroke="#1c1c1c" stroke-width="1.3"/>
<line x1="611.2" y1="166.1" x2="630.4" y2="185.6" stroke="#1c1c1c" stroke-width="1"/>
<text x="601.9" y="159.5" text-anchor="middle" fill="#2a2a2a">29</text>
<line x1="634.5" y1="186" x2="652" y2="169" stroke="#1c1c1c" stroke-width="1"/>
<line x1="832" y1="57.2" x2="846" y2="44.6" stroke="#1c1c1c" stroke-width="4.2" stroke-linecap="round"/>
<line x1="832.6" y1="56.6" x2="845.4" y2="45.2" stroke="#fff" stroke-width="1.4" stroke-linecap="round"/>
<circle cx="848.5" cy="41.8" r="4" fill="#111" stroke="#1c1c1c" stroke-width="1.4"/>
<line x1="826.9" y1="25.4" x2="845.6" y2="39" stroke="#1c1c1c" stroke-width="1"/>
<text x="817.8" y="26" text-anchor="middle" fill="#2a2a2a">33</text>
<circle cx="825.4" cy="63.3" r="3.9" fill="#111" stroke="#1c1c1c" stroke-width="1.4"/>
<line x1="802.3" y1="42.8" x2="822.5" y2="60.2" stroke="#1c1c1c" stroke-width="1"/>
<text x="794.5" y="44.1" text-anchor="middle" fill="#2a2a2a">9</text>
<path d="M799.1,82.6 L807.6,74.1 L811.8,75.2 L826.7,72 L830.4,73.1 L828.3,83.7 L817.2,94.8 L812.9,90.1 L802.3,89.4 Z" fill="#fff" stroke="#1c1c1c" stroke-width="2.2" stroke-linejoin="round" />
<path d="M811.8,75.2 L801,85.5 M826.7,72 L819.3,83.7 L817.2,94.8 M810.8,83 L819.3,83.7 M830.4,73.1 L822,81" fill="none" stroke="#1c1c1c" stroke-width="1.8" stroke-linejoin="round" />
<circle cx="799.4" cy="86.2" r="3.9" fill="#111" stroke="#1c1c1c" stroke-width="1.4"/>
<line x1="778.9" y1="62.3" x2="797.4" y2="80" stroke="#1c1c1c" stroke-width="1"/>
<text x="769.1" y="64.1" text-anchor="middle" fill="#2a2a2a">32</text>
<ellipse cx="779.6" cy="140.2" rx="7" ry="5.8" fill="#fff" stroke="#1c1c1c" stroke-width="1" transform="rotate(46 779.6 140.2)"/>
<ellipse cx="778.6" cy="141.2" rx="7" ry="5.8" fill="#fff" stroke="#1c1c1c" stroke-width="1.7" transform="rotate(46 778.6 141.2)"/>
<ellipse cx="778.6" cy="141.2" rx="3.4" ry="2.6" fill="#fff" stroke="#1c1c1c" stroke-width="1.3" transform="rotate(46 778.6 141.2)"/>
<line x1="785.4" y1="137.5" x2="815.2" y2="129" stroke="#1c1c1c" stroke-width="1"/>
<text x="830.8" y="131.6" text-anchor="middle" fill="#2a2a2a">34</text>
<circle cx="823" cy="179.8" r="6.4" fill="#fff" stroke="#1c1c1c" stroke-width="2"/>
<circle cx="823" cy="179.8" r="3.6" fill="#fff" stroke="#1c1c1c" stroke-width="1.6"/>
<path d="M817.5,176.5 L828.5,176.5 M817.5,183 L828.5,183" fill="none" stroke="#1c1c1c" stroke-width="1.2" stroke-linejoin="round" />
<circle cx="821.4" cy="181.4" r="1.6" fill="#222" stroke="#1c1c1c" stroke-width="1"/>
<line x1="829.5" y1="177.7" x2="858.8" y2="182.9" stroke="#1c1c1c" stroke-width="1"/>
<text x="874.1" y="190.7" text-anchor="middle" fill="#2a2a2a">35</text>
<ellipse cx="805.2" cy="194.4" rx="6" ry="5.2" fill="#fff" stroke="#1c1c1c" stroke-width="1.6" transform="rotate(46 805.2 194.4)"/>
<ellipse cx="805.2" cy="194.4" rx="4" ry="3.3" fill="#fff" stroke="#1c1c1c" stroke-width="1" transform="rotate(46 805.2 194.4)"/>
<line x1="809.4" y1="199" x2="824.3" y2="226.7" stroke="#1c1c1c" stroke-width="1"/>
<text x="828.2" y="243.6" text-anchor="middle" fill="#2a2a2a">36</text>
<line x1="833" y1="297.8" x2="870" y2="263.4" stroke="#1c1c1c" stroke-width="7.4"/>
<line x1="833" y1="297.8" x2="870" y2="263.4" stroke="#fff" stroke-width="5.2"/>
<ellipse cx="871.2" cy="262.2" rx="2.9" ry="2" fill="#fff" stroke="#1c1c1c" stroke-width="1" transform="rotate(46 871.2 262.2)"/>
<line x1="864.6" y1="263.6" x2="869" y2="268.4" stroke="#1c1c1c" stroke-width="1"/>
<line x1="855.6" y1="272.4" x2="860" y2="277.2" stroke="#1c1c1c" stroke-width="1"/>
<line x1="853" y1="276.6" x2="864" y2="266.2" stroke="#1c1c1c" stroke-width="2.2" stroke-dasharray=".8 .8"/>
<circle cx="850.1" cy="276.1" r="1.9" fill="#fff" stroke="#1c1c1c" stroke-width="1.1"/>
<line x1="849" y1="277.6" x2="845" y2="284" stroke="#1c1c1c" stroke-width="1"/>
<path d="M839.5,293 L845,284.6 Q849,284.6 850.5,289.9 Q853.8,296 853.6,304 L852.5,311.1 L849.3,313.2 Q848,304.5 839.7,299.4 Z" fill="#fff" stroke="#1c1c1c" stroke-width="1.4" stroke-linejoin="round" />
<path d="M846.5,288 Q849.5,293 850.8,298.5 L851.2,311 M848.6,289.6 L852,296" fill="none" stroke="#1c1c1c" stroke-width="1.1" stroke-linejoin="round" />
<path d="M836,291.4 L841.8,297.8" fill="none" stroke="#1c1c1c" stroke-width="1" stroke-linejoin="round" />
<ellipse cx="831.2" cy="300.2" rx="2.6" ry="2.2" fill="#fff" stroke="#1c1c1c" stroke-width="1.2"/>
<line x1="833.6" y1="296" x2="837" y2="299.8" stroke="#1c1c1c" stroke-width="2"/>
<line x1="814.5" y1="271.3" x2="832.1" y2="287.7" stroke="#1c1c1c" stroke-width="1"/>
<text x="806.9" y="271.6" text-anchor="middle" fill="#2a2a2a">37</text>
<circle cx="571" cy="527" r="3.6" fill="#fff" stroke="#1c1c1c" stroke-width="1.3"/>
<circle cx="570.6" cy="527.6" r="1.1" fill="#555" stroke="#1c1c1c" stroke-width="0.6"/>
<line x1="549.1" y1="507.1" x2="568.6" y2="524.6" stroke="#1c1c1c" stroke-width="1"/>
<text x="540.2" y="505.1" text-anchor="middle" fill="#2a2a2a">45</text>
<circle cx="582.1" cy="516.4" r="4.6" fill="#fff" stroke="#1c1c1c" stroke-width="1.8"/>
<ellipse cx="581.6" cy="517" rx="2.4" ry="2" fill="#555" stroke="#1c1c1c" stroke-width="1" transform="rotate(46 581.6 517)"/>
<line x1="560" y1="491.3" x2="578.8" y2="512.6" stroke="#1c1c1c" stroke-width="1"/>
<text x="552.4" y="488.5" text-anchor="middle" fill="#2a2a2a">44</text>
<line x1="606.5" y1="492" x2="617.6" y2="482.8" stroke="#1c1c1c" stroke-width="11.2"/>
<line x1="606.5" y1="492" x2="617.6" y2="482.8" stroke="#fff" stroke-width="9"/>
<line x1="614.6" y1="485.4" x2="618.6" y2="482" stroke="#1c1c1c" stroke-width="10.600000000000001"/>
<line x1="614.6" y1="485.4" x2="618.6" y2="482" stroke="#222" stroke-width="8.4"/>
<ellipse cx="619.6" cy="481.2" rx="5" ry="3" fill="#fff" stroke="#1c1c1c" stroke-width="1.1" transform="rotate(46 619.6 481.2)"/>
<ellipse cx="602.4" cy="497.6" rx="13" ry="10.4" fill="#fff" stroke="#1c1c1c" stroke-width="1" transform="rotate(46 602.4 497.6)"/>
<ellipse cx="599.6" cy="500.2" rx="13" ry="10.4" fill="#fff" stroke="#1c1c1c" stroke-width="1.4" transform="rotate(46 599.6 500.2)"/>
<ellipse cx="597.2" cy="502.4" rx="7.4" ry="5.8" fill="#fff" stroke="#1c1c1c" stroke-width="1.8" transform="rotate(46 597.2 502.4)"/>
<ellipse cx="596.4" cy="503.2" rx="4.8" ry="3.6" fill="#666" stroke="#1c1c1c" stroke-width="1.4" transform="rotate(46 596.4 503.2)"/>
<ellipse cx="596" cy="503.6" rx="2" ry="1.5" fill="#fff" stroke="#1c1c1c" stroke-width="0.8" transform="rotate(46 596 503.6)"/>
<line x1="570" y1="473.1" x2="589.4" y2="491.4" stroke="#1c1c1c" stroke-width="1"/>
<text x="562.4" y="471.4" text-anchor="middle" fill="#2a2a2a">43</text>
<ellipse cx="626.8" cy="474.5" rx="6.6" ry="5.6" fill="#fff" stroke="#1c1c1c" stroke-width="1.9" transform="rotate(46 626.8 474.5)"/>
<line x1="622.6" y1="478.4" x2="631" y2="470.6" stroke="#1c1c1c" stroke-width="0.9"/>
<line x1="599.7" y1="451.6" x2="621.4" y2="470.4" stroke="#1c1c1c" stroke-width="1"/>
<text x="592.4" y="449.6" text-anchor="middle" fill="#2a2a2a">42</text>
<ellipse cx="646.6" cy="456.1" rx="14.6" ry="12.4" fill="#fff" stroke="#1c1c1c" stroke-width="0.9" transform="rotate(46 646.6 456.1)"/>
<ellipse cx="643.4" cy="459.2" rx="14.6" ry="12.4" fill="#fff" stroke="#1c1c1c" stroke-width="2.6" transform="rotate(46 643.4 459.2)"/>
<ellipse cx="643.4" cy="459.2" rx="9.1" ry="7.7" fill="#fff" stroke="#1c1c1c" stroke-width="2.3" transform="rotate(46 643.4 459.2)"/>
<ellipse cx="643.4" cy="459.2" rx="5.3" ry="4.5" fill="#fff" stroke="#1c1c1c" stroke-width="1" transform="rotate(46 643.4 459.2)"/>
<line x1="640.2" y1="462.2" x2="646.6" y2="456.2" stroke="#1c1c1c" stroke-width="0.9"/>
<line x1="617.9" y1="429.1" x2="634.6" y2="446.6" stroke="#1c1c1c" stroke-width="1"/>
<text x="610.3" y="428.1" text-anchor="middle" fill="#2a2a2a">24</text>
<path d="M661.5,410 Q665.2,406.5 669.5,409.5 Q678,413 686,412.5 Q691.5,411 693.5,415.8 Q693,420.5 690.5,423 Q692,431.5 695.5,436 Q696.5,441.5 692,443 Q687,443.5 685,440.5 Q677.5,438 671.5,439.6 Q667,442.4 663.6,438.4 Q662.6,433.4 666,430 Q665.5,421.5 661.5,416.5 Q660,413 661.5,410 Z" fill="#fff" stroke="#1c1c1c" stroke-width="1.4" stroke-linejoin="round" />
<ellipse cx="678.1" cy="425.4" rx="11.2" ry="9.4" fill="#fff" stroke="#1c1c1c" stroke-width="1.4" transform="rotate(54 678.1 425.4)"/>
<ellipse cx="678.1" cy="425.4" rx="9.2" ry="7.6" fill="#fff" stroke="#1c1c1c" stroke-width="0.9" transform="rotate(54 678.1 425.4)"/>
<circle cx="665.6" cy="412.4" r="1.7" fill="#fff" stroke="#1c1c1c" stroke-width="1.1"/>
<circle cx="689.2" cy="416" r="1.7" fill="#fff" stroke="#1c1c1c" stroke-width="1.1"/>
<circle cx="691.4" cy="438.6" r="1.7" fill="#fff" stroke="#1c1c1c" stroke-width="1.1"/>
<circle cx="667.9" cy="436" r="1.7" fill="#fff" stroke="#1c1c1c" stroke-width="1.1"/>
<line x1="670" y1="433.5" x2="686.6" y2="417.6" stroke="#1c1c1c" stroke-width="1"/>
<line x1="641.6" y1="389.2" x2="660.4" y2="406.4" stroke="#1c1c1c" stroke-width="1"/>
<text x="632.7" y="387.8" text-anchor="middle" fill="#2a2a2a">41</text>
<line x1="699.9" y1="379.4" x2="704.2" y2="375.3" stroke="#1c1c1c" stroke-width="4.8" stroke-linecap="round"/>
<line x1="699.9" y1="379.4" x2="704.2" y2="375.3" stroke="#fff" stroke-width="2.4" stroke-linecap="round"/>
<ellipse cx="705.7" cy="373.8" rx="3" ry="3.1" fill="#fff" stroke="#1c1c1c" stroke-width="1.6" transform="rotate(-44 705.7 373.8)"/>
<ellipse cx="704.2" cy="375.3" rx="1.5" ry="3.9" fill="#fff" stroke="#1c1c1c" stroke-width="1.7" transform="rotate(-44 704.2 375.3)"/>
<line x1="705" y1="372.5" x2="707" y2="374.5" stroke="#1c1c1c" stroke-width="1"/>
<line x1="732.9" y1="381.4" x2="737.2" y2="377.3" stroke="#1c1c1c" stroke-width="4.8" stroke-linecap="round"/>
<line x1="732.9" y1="381.4" x2="737.2" y2="377.3" stroke="#fff" stroke-width="2.4" stroke-linecap="round"/>
<ellipse cx="738.7" cy="375.8" rx="3" ry="3.1" fill="#fff" stroke="#1c1c1c" stroke-width="1.6" transform="rotate(-44 738.7 375.8)"/>
<ellipse cx="737.2" cy="377.3" rx="1.5" ry="3.9" fill="#fff" stroke="#1c1c1c" stroke-width="1.7" transform="rotate(-44 737.2 377.3)"/>
<line x1="738" y1="374.5" x2="740" y2="376.5" stroke="#1c1c1c" stroke-width="1"/>
<line x1="693.9" y1="401" x2="698.2" y2="396.9" stroke="#1c1c1c" stroke-width="4.8" stroke-linecap="round"/>
<line x1="693.9" y1="401" x2="698.2" y2="396.9" stroke="#fff" stroke-width="2.4" stroke-linecap="round"/>
<ellipse cx="699.7" cy="395.4" rx="3" ry="3.1" fill="#fff" stroke="#1c1c1c" stroke-width="1.6" transform="rotate(-44 699.7 395.4)"/>
<ellipse cx="698.2" cy="396.9" rx="1.5" ry="3.9" fill="#fff" stroke="#1c1c1c" stroke-width="1.7" transform="rotate(-44 698.2 396.9)"/>
<line x1="699" y1="394.1" x2="701" y2="396.1" stroke="#1c1c1c" stroke-width="1"/>
<line x1="726.7" y1="403.2" x2="731" y2="399.1" stroke="#1c1c1c" stroke-width="4.8" stroke-linecap="round"/>
<line x1="726.7" y1="403.2" x2="731" y2="399.1" stroke="#fff" stroke-width="2.4" stroke-linecap="round"/>
<ellipse cx="732.5" cy="397.6" rx="3" ry="3.1" fill="#fff" stroke="#1c1c1c" stroke-width="1.6" transform="rotate(-44 732.5 397.6)"/>
<ellipse cx="731" cy="399.1" rx="1.5" ry="3.9" fill="#fff" stroke="#1c1c1c" stroke-width="1.7" transform="rotate(-44 731 399.1)"/>
<line x1="731.8" y1="396.3" x2="733.8" y2="398.3" stroke="#1c1c1c" stroke-width="1"/>
<line x1="682.1" y1="352.2" x2="699.6" y2="370.6" stroke="#1c1c1c" stroke-width="1"/>
<text x="673.7" y="349.9" text-anchor="middle" fill="#2a2a2a">40</text>
<polyline points="760.3,365.9 762.9,370.1 762,371.1 760.6,371.5 757.7,367.5" fill="#fff" stroke="#1c1c1c" stroke-width="1.5" stroke-linejoin="round"/>
<polyline points="756.2,368 757.2,372.6 755.9,373.2 754.4,372.9 753,368.3" fill="#fff" stroke="#1c1c1c" stroke-width="1.5" stroke-linejoin="round"/>
<polyline points="751.4,368.2 750.6,372.6 749.1,372.6 747.7,371.8 748.2,367.3" fill="#fff" stroke="#1c1c1c" stroke-width="1.5" stroke-linejoin="round"/>
<polyline points="746.7,366.5 744.1,370 742.7,369.4 741.7,368.2 743.8,364.5" fill="#fff" stroke="#1c1c1c" stroke-width="1.5" stroke-linejoin="round"/>
<polyline points="742.7,363.2 738.8,365.3 737.6,364.2 737.1,362.8 740.7,360.3" fill="#fff" stroke="#1c1c1c" stroke-width="1.5" stroke-linejoin="round"/>
<polyline points="740,358.8 735.5,359.1 734.7,357.7 734.8,356.2 739.2,355.5" fill="#fff" stroke="#1c1c1c" stroke-width="1.5" stroke-linejoin="round"/>
<polyline points="739.1,353.9 734.6,352.4 734.4,350.9 735,349.6 739.6,350.7" fill="#fff" stroke="#1c1c1c" stroke-width="1.5" stroke-linejoin="round"/>
<polyline points="740.1,349.3 736.3,346.3 736.7,344.9 737.7,344 741.8,346.7" fill="#fff" stroke="#1c1c1c" stroke-width="1.5" stroke-linejoin="round"/>
<polyline points="742.9,345.7 740.3,341.5 741.2,340.5 742.6,340.1 745.5,344.1" fill="#fff" stroke="#1c1c1c" stroke-width="1.5" stroke-linejoin="round"/>
<polyline points="747,343.6 746,339 747.3,338.4 748.8,338.7 750.2,343.3" fill="#fff" stroke="#1c1c1c" stroke-width="1.5" stroke-linejoin="round"/>
<polyline points="751.8,343.4 752.6,339 754.1,339 755.5,339.8 755,344.3" fill="#fff" stroke="#1c1c1c" stroke-width="1.5" stroke-linejoin="round"/>
<polyline points="756.5,345.1 759.1,341.6 760.5,342.2 761.5,343.4 759.4,347.1" fill="#fff" stroke="#1c1c1c" stroke-width="1.5" stroke-linejoin="round"/>
<polyline points="760.5,348.4 764.4,346.3 765.6,347.4 766.1,348.8 762.5,351.3" fill="#fff" stroke="#1c1c1c" stroke-width="1.5" stroke-linejoin="round"/>
<polyline points="763.2,352.8 767.7,352.5 768.5,353.9 768.4,355.4 764,356.1" fill="#fff" stroke="#1c1c1c" stroke-width="1.5" stroke-linejoin="round"/>
<polyline points="764.1,357.7 768.6,359.2 768.8,360.7 768.2,362 763.6,360.9" fill="#fff" stroke="#1c1c1c" stroke-width="1.5" stroke-linejoin="round"/>
<polyline points="763.1,362.3 766.9,365.3 766.5,366.7 765.5,367.6 761.4,364.9" fill="#fff" stroke="#1c1c1c" stroke-width="1.5" stroke-linejoin="round"/>
<ellipse cx="751.6" cy="355.8" rx="13.8" ry="12" fill="#fff" stroke="#1c1c1c" stroke-width="1.5" transform="rotate(46 751.6 355.8)"/>
<ellipse cx="751.6" cy="356" rx="10.4" ry="8.8" fill="#fff" stroke="#1c1c1c" stroke-width="1.1" transform="rotate(46 751.6 356)"/>
<ellipse cx="751.2" cy="356.4" rx="8.8" ry="7.4" fill="#fff" stroke="#1c1c1c" stroke-width="1.8" transform="rotate(46 751.2 356.4)"/>
<ellipse cx="750.8" cy="356.8" rx="6.6" ry="5.4" fill="#151515" stroke="#1c1c1c" stroke-width="1.4" transform="rotate(46 750.8 356.8)"/>
<ellipse cx="752.6" cy="356.2" rx="3.6" ry="2" fill="#fff" stroke="none" stroke-width="0" transform="rotate(26 752.6 356.2)"/>
<line x1="720.5" y1="324.7" x2="739.4" y2="341.8" stroke="#1c1c1c" stroke-width="1"/>
<text x="712.4" y="323.2" text-anchor="middle" fill="#2a2a2a">39</text>
<ellipse cx="771.9" cy="336.9" rx="5.6" ry="4.8" fill="#fff" stroke="#1c1c1c" stroke-width="1.9" transform="rotate(46 771.9 336.9)"/>
<line x1="751.6" y1="315.6" x2="768.4" y2="332.6" stroke="#1c1c1c" stroke-width="1"/>
<text x="743.5" y="314" text-anchor="middle" fill="#2a2a2a">38</text>
<ellipse cx="701.7" cy="556" rx="11.6" ry="10" fill="#fff" stroke="#1c1c1c" stroke-width="0.9" transform="rotate(46 701.7 556)"/>
<ellipse cx="699.4" cy="558.2" rx="11.6" ry="10" fill="#fff" stroke="#1c1c1c" stroke-width="2.4" transform="rotate(46 699.4 558.2)"/>
<ellipse cx="699.4" cy="558.2" rx="7.2" ry="6.2" fill="#fff" stroke="#1c1c1c" stroke-width="2.3" transform="rotate(46 699.4 558.2)"/>
<ellipse cx="699.4" cy="558.2" rx="4.2" ry="3.6" fill="#fff" stroke="#1c1c1c" stroke-width="1" transform="rotate(46 699.4 558.2)"/>
<line x1="696.9" y1="560.6" x2="701.9" y2="555.8" stroke="#1c1c1c" stroke-width="0.9"/>
<line x1="672.2" y1="531.4" x2="691.2" y2="549.7" stroke="#1c1c1c" stroke-width="1"/>
<text x="662.7" y="534.6" text-anchor="middle" fill="#2a2a2a">20</text>
<ellipse cx="715.1" cy="543.6" rx="4.6" ry="3.9" fill="#fff" stroke="#1c1c1c" stroke-width="2.2" transform="rotate(46 715.1 543.6)"/>
<line x1="691.9" y1="523.4" x2="711.6" y2="540.6" stroke="#1c1c1c" stroke-width="1"/>
<text x="685.7" y="522.5" text-anchor="middle" fill="#2a2a2a">46</text>
<ellipse cx="726.2" cy="532.7" rx="7.6" ry="6.4" fill="#fff" stroke="#1c1c1c" stroke-width="1.1" transform="rotate(46 726.2 532.7)"/>
<ellipse cx="726.2" cy="532.7" rx="4.3" ry="3.5" fill="#fff" stroke="#1c1c1c" stroke-width="1.1" transform="rotate(46 726.2 532.7)"/>
<line x1="722.4" y1="536.2" x2="730" y2="529.2" stroke="#1c1c1c" stroke-width="0.9"/>
<line x1="702.9" y1="509.5" x2="721.2" y2="527.6" stroke="#1c1c1c" stroke-width="1"/>
<text x="696.7" y="509" text-anchor="middle" fill="#2a2a2a">47</text>
<polygon points="757.3,527.6 756.7,528.2 754.8,527.1 754.2,527.5 754.7,529.6 754,530 752.3,528.6 751.7,528.8 751.7,530.9 750.9,531.1 749.6,529.4 748.8,529.5 748.5,531.5 747.6,531.6 746.6,529.7 745.8,529.6 745.1,531.4 744.2,531.3 743.6,529.3 742.8,529.1 741.6,530.6 740.8,530.3 740.6,528.3 739.9,527.9 738.4,529.1 737.6,528.7 737.8,526.7 737.2,526.2 735.4,527 734.8,526.4 735.4,524.6 734.8,524 732.9,524.4 732.4,523.7 733.4,522.1 733,521.4 730.9,521.4 730.5,520.6 731.9,519.2 731.6,518.5 729.6,518.1 729.3,517.3 731,516.2 730.8,515.5 728.9,514.7 728.8,513.8 730.7,513.2 730.7,512.4 728.9,511.3 729,510.4 731,510.2 731.2,509.5 729.7,508 729.9,507.2 732,507.5 732.3,506.9 731.1,505.1 731.5,504.4 733.5,505.1 734,504.5 733.1,502.6 733.7,502 735.6,503.1 736.2,502.7 735.7,500.6 736.4,500.2 738.1,501.6 738.7,501.4 738.7,499.3 739.5,499.1 740.8,500.8 741.6,500.7 741.9,498.7 742.8,498.6 743.8,500.5 744.6,500.6 745.3,498.8 746.2,498.9 746.8,500.9 747.6,501.1 748.8,499.6 749.6,499.9 749.8,501.9 750.5,502.3 752,501.1 752.8,501.5 752.6,503.5 753.2,504 755,503.2 755.6,503.8 755,505.6 755.6,506.2 757.5,505.8 758,506.5 757,508.1 757.4,508.8 759.5,508.8 759.9,509.6 758.5,511 758.8,511.7 760.8,512.1 761.1,512.9 759.4,514 759.6,514.7 761.5,515.5 761.6,516.4 759.7,517 759.7,517.8 761.5,518.9 761.4,519.8 759.4,520 759.2,520.7 760.7,522.2 760.5,523 758.4,522.7 758.1,523.3 759.3,525.1 758.9,525.8 756.9,525.1 756.4,525.7" fill="#222" stroke="#1c1c1c" stroke-width="1" stroke-linejoin="round"/>
<polygon points="756.5,528.4 755.9,529 753.9,527.8 753.3,528.2 753.9,530.4 753.2,530.8 751.5,529.2 750.8,529.5 750.9,531.7 750.1,531.9 748.7,530 748,530.2 747.7,532.3 746.8,532.4 745.8,530.3 745,530.2 744.3,532.2 743.4,532.1 742.8,529.9 742,529.7 740.8,531.4 740,531.1 739.9,528.9 739.1,528.5 737.6,529.9 736.8,529.5 737.1,527.3 736.5,526.8 734.6,527.8 734,527.2 734.7,525.2 734.2,524.7 732.1,525.2 731.6,524.5 732.7,522.8 732.3,522.1 730.1,522.2 729.7,521.4 731.3,520 731,519.3 728.8,518.9 728.5,518.1 730.4,517 730.2,516.3 728.1,515.5 728,514.6 730.1,514 730.1,513.3 728.1,512.1 728.2,511.2 730.4,511.1 730.6,510.4 728.9,508.8 729.1,508 731.4,508.4 731.7,507.8 730.3,505.9 730.7,505.2 732.9,506 733.3,505.5 732.3,503.4 732.9,502.8 734.9,504 735.5,503.6 734.9,501.4 735.6,501 737.3,502.6 738,502.3 737.9,500.1 738.7,499.9 740.1,501.8 740.8,501.6 741.1,499.5 742,499.4 743,501.5 743.8,501.6 744.5,499.6 745.4,499.7 746,501.9 746.8,502.1 748,500.4 748.8,500.7 748.9,502.9 749.7,503.3 751.2,501.9 752,502.3 751.7,504.5 752.3,505 754.2,504 754.8,504.6 754.1,506.6 754.6,507.1 756.7,506.6 757.2,507.3 756.1,509 756.5,509.7 758.7,509.6 759.1,510.4 757.5,511.8 757.8,512.5 760,512.9 760.3,513.7 758.4,514.8 758.6,515.5 760.7,516.3 760.8,517.2 758.7,517.8 758.7,518.5 760.7,519.7 760.6,520.6 758.4,520.7 758.2,521.4 759.9,523 759.7,523.8 757.4,523.4 757.1,524 758.5,525.9 758.1,526.6 755.9,525.8 755.5,526.3" fill="#fff" stroke="#1c1c1c" stroke-width="1.7" stroke-linejoin="round"/>
<ellipse cx="744.4" cy="515.9" rx="14.6" ry="12.8" fill="none" stroke="#1c1c1c" stroke-width="1" transform="rotate(46 744.4 515.9)"/>
<ellipse cx="744.8" cy="515.5" rx="6" ry="5" fill="#fff" stroke="#1c1c1c" stroke-width="1.2" transform="rotate(46 744.8 515.5)"/>
<path d="M740.4,519.4 L749,511.6 M742.4,513 Q746,511 748.8,515" fill="none" stroke="#1c1c1c" stroke-width="0.9" stroke-linejoin="round" />
<line x1="713.2" y1="487.5" x2="731.6" y2="505.8" stroke="#1c1c1c" stroke-width="1"/>
<text x="706.9" y="485.9" text-anchor="middle" fill="#2a2a2a">48</text>
<ellipse cx="763" cy="497.6" rx="5.8" ry="5" fill="#fff" stroke="#1c1c1c" stroke-width="3.8" transform="rotate(46 763 497.6)"/>
<line x1="739.5" y1="479.5" x2="758.6" y2="493.4" stroke="#1c1c1c" stroke-width="1"/>
<text x="732.5" y="478.6" text-anchor="middle" fill="#2a2a2a">49</text>
<path d="M772.3,489.8 A6.8,5.8 0 1 1 781.3,488.4" fill="none" stroke="#1c1c1c" stroke-width="3.8" stroke-linejoin="round" stroke-linecap="round"/>
<path d="M772.3,489.8 A6.8,5.8 0 1 1 781.3,488.4" fill="none" stroke="#fff" stroke-width="1.6" stroke-linejoin="round" stroke-linecap="round"/>
<path d="M774.3,484.2 L776.1,487.2 M777.3,482.2 L778.5,484.4" fill="none" stroke="#1c1c1c" stroke-width="1" stroke-linejoin="round" />
<line x1="753.4" y1="460.1" x2="771.6" y2="479" stroke="#1c1c1c" stroke-width="1"/>
<text x="745.3" y="459.2" text-anchor="middle" fill="#2a2a2a">50</text>
<polygon points="806.7,476.7 805.8,477.5 803.5,476.4 802.6,476.9 802.4,479.3 801.2,479.7 799.4,477.8 798.3,477.9 797.3,479.9 795.9,479.7 794.9,477.4 793.8,477.1 792,478.4 790.7,477.8 790.6,475.3 789.7,474.6 787.4,475.1 786.4,474 787.2,471.9 786.6,470.8 784.2,470.4 783.7,469.1 785.3,467.5 785.1,466.4 782.9,465.1 782.9,463.7 785.1,463 785.3,461.9 783.7,459.9 784.2,458.7 786.6,458.9 787.3,458.1 786.5,455.7 787.4,454.9 789.7,456 790.6,455.5 790.8,453.1 792,452.7 793.8,454.6 794.9,454.5 795.9,452.5 797.3,452.7 798.3,455 799.4,455.3 801.2,454 802.5,454.6 802.6,457.1 803.5,457.8 805.8,457.3 806.8,458.4 806,460.5 806.6,461.6 809,462 809.5,463.3 807.9,464.9 808.1,466 810.3,467.3 810.3,468.7 808.1,469.4 807.9,470.5 809.5,472.5 809,473.7 806.6,473.5 805.9,474.3" fill="#222" stroke="#1c1c1c" stroke-width="1.2" stroke-linejoin="round"/>
<polygon points="805.3,478 804.4,478.8 802.1,477.7 801.2,478.2 801,480.6 799.8,481 798,479.1 796.9,479.2 795.9,481.2 794.5,481 793.5,478.7 792.4,478.4 790.6,479.7 789.3,479.1 789.2,476.6 788.3,475.9 786,476.4 785,475.3 785.8,473.2 785.2,472.1 782.8,471.7 782.3,470.4 783.9,468.8 783.7,467.7 781.5,466.4 781.5,465 783.7,464.3 783.9,463.2 782.3,461.2 782.8,460 785.2,460.2 785.9,459.4 785.1,457 786,456.2 788.3,457.3 789.2,456.8 789.4,454.4 790.6,454 792.4,455.9 793.5,455.8 794.5,453.8 795.9,454 796.9,456.3 798,456.6 799.8,455.3 801.1,455.9 801.2,458.4 802.1,459.1 804.4,458.6 805.4,459.7 804.6,461.8 805.2,462.9 807.6,463.3 808.1,464.6 806.5,466.2 806.7,467.3 808.9,468.6 808.9,470 806.7,470.7 806.5,471.8 808.1,473.8 807.6,475 805.2,474.8 804.5,475.6" fill="#2a2a2a" stroke="#1c1c1c" stroke-width="1.2" stroke-linejoin="round"/>
<ellipse cx="795.2" cy="467.5" rx="10.6" ry="9" fill="none" stroke="#777" stroke-width="0.9" stroke-dasharray="1.5 1.5" transform="rotate(46 795.2 467.5)"/>
<ellipse cx="795.2" cy="467.5" rx="7.4" ry="6.2" fill="#222" stroke="#fff" stroke-width="1.4" transform="rotate(46 795.2 467.5)"/>
<ellipse cx="794.8" cy="467.9" rx="4" ry="3.2" fill="#555" stroke="#ccc" stroke-width="0.8" transform="rotate(46 794.8 467.9)"/>
<line x1="768" y1="440.7" x2="786.3" y2="458.2" stroke="#1c1c1c" stroke-width="1"/>
<text x="759.6" y="440.9" text-anchor="middle" fill="#2a2a2a">51</text>
<path d="M811.2,453.4 A6.8,5.8 0 1 1 820.2,452" fill="none" stroke="#1c1c1c" stroke-width="3.8" stroke-linejoin="round" stroke-linecap="round"/>
<path d="M811.2,453.4 A6.8,5.8 0 1 1 820.2,452" fill="none" stroke="#fff" stroke-width="1.6" stroke-linejoin="round" stroke-linecap="round"/>
<path d="M813.2,447.8 L815,450.8 M816.2,445.8 L817.4,448" fill="none" stroke="#1c1c1c" stroke-width="1" stroke-linejoin="round" />
<line x1="791.8" y1="423.5" x2="810.6" y2="442.6" stroke="#1c1c1c" stroke-width="1"/>
<text x="783.7" y="421.9" text-anchor="middle" fill="#2a2a2a">50</text>
<polygon points="847.9,441.2 847.2,441.8 845.1,440.6 844.5,441.1 844.9,443.3 844.1,443.7 842.4,442.1 841.6,442.4 841.5,444.6 840.6,444.8 839.2,442.9 838.4,443 837.8,445.1 836.8,445 835.9,442.8 835.1,442.7 833.9,444.5 833,444.3 832.6,442 831.8,441.7 830.2,443.1 829.4,442.6 829.5,440.4 828.8,439.9 826.9,440.9 826.1,440.2 826.8,438.2 826.2,437.5 824.1,438 823.5,437.2 824.7,435.4 824.2,434.6 822,434.6 821.6,433.6 823.2,432.2 822.9,431.4 820.7,430.8 820.5,429.8 822.5,428.9 822.4,428.1 820.3,427 820.4,426 822.5,425.6 822.7,424.8 820.9,423.2 821.1,422.4 823.4,422.5 823.7,421.8 822.3,419.9 822.8,419.1 825,419.8 825.5,419.2 824.5,417 825.2,416.4 827.3,417.6 827.9,417.1 827.5,414.9 828.3,414.5 830,416.1 830.8,415.8 830.9,413.6 831.8,413.4 833.2,415.3 834,415.2 834.6,413.1 835.6,413.2 836.5,415.4 837.3,415.5 838.5,413.7 839.4,413.9 839.8,416.2 840.6,416.5 842.2,415.1 843,415.6 842.9,417.8 843.6,418.3 845.5,417.3 846.3,418 845.6,420 846.2,420.7 848.3,420.2 848.9,421 847.7,422.8 848.2,423.6 850.4,423.6 850.8,424.6 849.2,426 849.5,426.8 851.7,427.4 851.9,428.4 849.9,429.3 850,430.1 852.1,431.2 852,432.2 849.9,432.6 849.7,433.4 851.5,435 851.3,435.8 849,435.7 848.7,436.4 850.1,438.3 849.6,439.1 847.4,438.4 846.9,439" fill="#222" stroke="#1c1c1c" stroke-width="1" stroke-linejoin="round"/>
<polygon points="847.2,441.9 846.5,442.5 844.3,441.2 843.7,441.6 844.2,444 843.4,444.4 841.6,442.7 840.8,442.9 840.8,445.3 839.9,445.5 838.5,443.4 837.7,443.5 837.1,445.8 836.1,445.7 835.2,443.4 834.4,443.2 833.2,445.2 832.3,445 832,442.5 831.2,442.2 829.5,443.8 828.7,443.3 828.9,441 828.2,440.5 826.2,441.6 825.4,440.9 826.3,438.7 825.7,438.1 823.4,438.7 822.8,437.9 824.1,436 823.7,435.2 821.3,435.3 820.9,434.3 822.7,432.9 822.4,432.1 820,431.5 819.8,430.5 821.9,429.6 821.9,428.8 819.6,427.7 819.7,426.7 822,426.3 822.2,425.6 820.2,423.9 820.4,423.1 822.9,423.3 823.2,422.6 821.6,420.6 822.1,419.8 824.5,420.6 825,420 823.8,417.7 824.5,417.1 826.7,418.4 827.3,418 826.8,415.6 827.6,415.2 829.4,416.9 830.2,416.7 830.2,414.3 831.1,414.1 832.5,416.2 833.3,416.1 833.9,413.8 834.9,413.9 835.8,416.2 836.6,416.4 837.8,414.4 838.7,414.6 839,417.1 839.8,417.4 841.5,415.8 842.3,416.3 842.1,418.6 842.8,419.1 844.8,418 845.6,418.7 844.7,420.9 845.3,421.5 847.6,420.9 848.2,421.7 846.9,423.6 847.3,424.4 849.7,424.3 850.1,425.3 848.3,426.7 848.6,427.5 851,428.1 851.2,429.1 849.1,430 849.1,430.8 851.4,431.9 851.3,432.9 849,433.3 848.8,434 850.8,435.7 850.6,436.5 848.1,436.3 847.8,437 849.4,439 848.9,439.8 846.5,439 846,439.6" fill="#fff" stroke="#1c1c1c" stroke-width="1.7" stroke-linejoin="round"/>
<ellipse cx="835.5" cy="429.8" rx="13.8" ry="12.2" fill="none" stroke="#1c1c1c" stroke-width="1" transform="rotate(46 835.5 429.8)"/>
<ellipse cx="835.8" cy="429.5" rx="6" ry="5" fill="#fff" stroke="#1c1c1c" stroke-width="1.2" transform="rotate(46 835.8 429.5)"/>
<path d="M831.4,433.6 L840,425.6 M833.4,427 Q837,425 839.8,429" fill="none" stroke="#1c1c1c" stroke-width="0.9" stroke-linejoin="round" />
<ellipse cx="838.4" cy="419.4" rx="2.4" ry="1.6" fill="#333" stroke="#1c1c1c" stroke-width="1" transform="rotate(46 838.4 419.4)"/>
<ellipse cx="825.4" cy="432.4" rx="2.4" ry="1.6" fill="#333" stroke="#1c1c1c" stroke-width="1" transform="rotate(46 825.4 432.4)"/>
<ellipse cx="843.2" cy="440.6" rx="2.4" ry="1.6" fill="#333" stroke="#1c1c1c" stroke-width="1" transform="rotate(46 843.2 440.6)"/>
<line x1="808.2" y1="401.6" x2="824.7" y2="417.3" stroke="#1c1c1c" stroke-width="1"/>
<text x="800.9" y="400" text-anchor="middle" fill="#2a2a2a">52</text>
<ellipse cx="854.6" cy="410.8" rx="5.8" ry="5" fill="#fff" stroke="#1c1c1c" stroke-width="3.8" transform="rotate(46 854.6 410.8)"/>
<line x1="828.4" y1="389.5" x2="850.3" y2="407" stroke="#1c1c1c" stroke-width="1"/>
<text x="821.8" y="388.3" text-anchor="middle" fill="#2a2a2a">49</text>
<path d="M886.6,367.4 L903.6,359.6 Q908.4,361 908.6,365.8 L899.4,383.8 Z" fill="#fff" stroke="#1c1c1c" stroke-width="1.2" stroke-linejoin="round" />
<path d="M903.6,359.6 Q906.4,364 908.6,365.8" fill="none" stroke="#1c1c1c" stroke-width="1" stroke-linejoin="round" />
<polygon points="903.3,387.1 902.8,387.5 901.2,386.6 900.7,386.9 901.2,388.6 900.6,388.9 899.1,387.6 898.5,387.8 898.6,389.5 897.9,389.6 896.6,388.1 896,388.1 895.7,389.6 894.9,389.6 893.9,387.9 893.3,387.7 892.6,389.1 891.8,388.8 891.2,387.1 890.5,386.8 889.5,387.9 888.7,387.4 888.5,385.7 887.8,385.3 886.5,386 885.8,385.5 885.9,383.9 885.4,383.3 883.9,383.7 883.2,383 883.7,381.6 883.2,380.9 881.6,380.9 881.1,380.2 882,379 881.6,378.3 879.9,377.9 879.5,377.1 880.7,376.2 880.5,375.5 878.7,374.7 878.6,373.9 880,373.4 879.9,372.7 878.3,371.6 878.3,370.9 879.9,370.8 880,370.1 878.6,368.7 878.7,368.1 880.4,368.3 880.7,367.8 879.5,366.2 879.8,365.6 881.6,366.3 881.9,365.8 881.1,364.1 881.6,363.7 883.2,364.6 883.7,364.3 883.2,362.6 883.8,362.3 885.3,363.6 885.9,363.4 885.8,361.7 886.5,361.6 887.8,363.1 888.4,363.1 888.7,361.6 889.5,361.6 890.5,363.3 891.1,363.5 891.8,362.1 892.6,362.4 893.2,364.1 893.9,364.4 894.9,363.3 895.7,363.8 895.9,365.5 896.6,365.9 897.9,365.2 898.6,365.7 898.5,367.3 899,367.9 900.5,367.5 901.2,368.2 900.7,369.6 901.2,370.3 902.8,370.3 903.3,371 902.4,372.2 902.8,372.9 904.5,373.3 904.9,374.1 903.7,375 903.9,375.7 905.7,376.5 905.8,377.3 904.4,377.8 904.5,378.5 906.1,379.6 906.1,380.3 904.5,380.4 904.4,381.1 905.8,382.5 905.7,383.1 904,382.9 903.7,383.4 904.9,385 904.6,385.6 902.8,384.9 902.5,385.4" fill="#222" stroke="#1c1c1c" stroke-width="1" stroke-linejoin="round"/>
<polygon points="901.1,389.3 900.6,389.7 898.8,388.6 898.4,388.9 899,390.8 898.4,391.1 896.8,389.6 896.2,389.8 896.4,391.7 895.7,391.8 894.4,390.1 893.7,390.1 893.5,391.8 892.7,391.8 891.7,389.9 891,389.8 890.4,391.3 889.6,391 889,389.1 888.3,388.8 887.3,390.1 886.5,389.6 886.3,387.8 885.7,387.4 884.3,388.2 883.6,387.7 883.8,385.9 883.3,385.4 881.7,385.9 881,385.2 881.7,383.7 881.2,383.1 879.4,383.1 878.9,382.4 879.9,381.1 879.5,380.5 877.7,380.1 877.3,379.3 878.6,378.4 878.4,377.7 876.5,376.9 876.4,376.1 878,375.7 877.9,375 876.1,373.8 876.1,373.1 877.9,373 878,372.4 876.4,370.9 876.5,370.3 878.4,370.6 878.6,370.1 877.3,368.4 877.6,367.8 879.5,368.6 879.9,368.1 878.9,366.3 879.4,365.9 881.2,367 881.6,366.7 881,364.8 881.6,364.5 883.2,366 883.8,365.8 883.6,363.9 884.3,363.8 885.6,365.5 886.3,365.5 886.5,363.8 887.3,363.8 888.3,365.7 889,365.8 889.6,364.3 890.4,364.6 891,366.5 891.7,366.8 892.7,365.5 893.5,366 893.7,367.8 894.3,368.2 895.7,367.4 896.4,367.9 896.2,369.7 896.7,370.2 898.3,369.7 899,370.4 898.3,371.9 898.8,372.5 900.6,372.5 901.1,373.2 900.1,374.5 900.5,375.1 902.3,375.5 902.7,376.3 901.4,377.2 901.6,377.9 903.5,378.7 903.6,379.5 902,379.9 902.1,380.6 903.9,381.8 903.9,382.5 902.1,382.6 902,383.2 903.6,384.7 903.5,385.3 901.6,385 901.4,385.5 902.7,387.2 902.4,387.8 900.5,387 900.1,387.5" fill="#fff" stroke="#1c1c1c" stroke-width="1.8" stroke-linejoin="round"/>
<ellipse cx="888.4" cy="379.4" rx="10.4" ry="7.4" fill="#fff" stroke="#1c1c1c" stroke-width="1.2" transform="rotate(46 888.4 379.4)"/>
<ellipse cx="887.4" cy="380.4" rx="7.6" ry="5.4" fill="#fff" stroke="#1c1c1c" stroke-width="1.2" transform="rotate(46 887.4 380.4)"/>
<line x1="869.6" y1="396" x2="884.6" y2="382.4" stroke="#1c1c1c" stroke-width="12.399999999999999"/>
<line x1="869.6" y1="396" x2="884.6" y2="382.4" stroke="#1e1e1e" stroke-width="10.2"/>
<line x1="869.6" y1="396" x2="874.6" y2="391.4" stroke="#1c1c1c" stroke-width="12.399999999999999"/>
<line x1="869.6" y1="396" x2="874.6" y2="391.4" stroke="#fff" stroke-width="10.2"/>
<line x1="872.4" y1="388.4" x2="879.6" y2="396.2" stroke="#1c1c1c" stroke-width="1"/>
<ellipse cx="868.2" cy="397.4" rx="5.8" ry="4.4" fill="#fff" stroke="#1c1c1c" stroke-width="1.3" transform="rotate(46 868.2 397.4)"/>
<circle cx="867.8" cy="397.8" r="1.5" fill="#222" stroke="#1c1c1c" stroke-width="0.8"/>
<line x1="859.5" y1="350.4" x2="879.6" y2="368.6" stroke="#1c1c1c" stroke-width="1"/>
<text x="851" y="348" text-anchor="middle" fill="#2a2a2a">53</text>
<ellipse cx="924" cy="345.4" rx="11.6" ry="10.2" fill="#fff" stroke="#1c1c1c" stroke-width="0.9" transform="rotate(46 924 345.4)"/>
<ellipse cx="921.6" cy="347.8" rx="11.6" ry="10.2" fill="#fff" stroke="#1c1c1c" stroke-width="2" transform="rotate(46 921.6 347.8)"/>
<ellipse cx="921.6" cy="347.8" rx="7.2" ry="6.3" fill="#fff" stroke="#1c1c1c" stroke-width="2.3" transform="rotate(46 921.6 347.8)"/>
<ellipse cx="921.6" cy="347.8" rx="4.2" ry="3.7" fill="#fff" stroke="#1c1c1c" stroke-width="1" transform="rotate(46 921.6 347.8)"/>
<line x1="919.1" y1="350.2" x2="924.1" y2="345.4" stroke="#1c1c1c" stroke-width="0.9"/>
<line x1="894.4" y1="321.4" x2="913.3" y2="339.6" stroke="#1c1c1c" stroke-width="1"/>
<text x="885" y="317.5" text-anchor="middle" fill="#2a2a2a">20</text>
</g>
<g opacity="0.45" transform="translate(108.6 785) rotate(-41.7) scale(1.14 1)">
<text class="wm" x="1.7 59.3 116.8 173.1 192.1 232.7 274.8 295.6 335.3 362.8 381.9 418.4 441.2 480.8 507.2 546.2 587.8 612.5 648.7 674.9 715.0 735.3 756.1 796.3 815.2 857.8" y="0" fill="#7e7e7e" stroke="#7e7e7e" stroke-width="4.4" stroke-linejoin="round">www.polaris-ersatzteile.de</text>
<text class="wm" x="1.7 59.3 116.8 173.1 192.1 232.7 274.8 295.6 335.3 362.8 381.9 418.4 441.2 480.8 507.2 546.2 587.8 612.5 648.7 674.9 715.0 735.3 756.1 796.3 815.2 857.8" y="0" fill="#aaa" stroke="#aaa" stroke-width="1.6" stroke-linejoin="round">www.polaris-ersatzteile.de</text>
</g>
<line x1="940.5" y1="113.8" x2="943.4" y2="115" stroke="#1c1c1c" stroke-width="1"/>
</svg>
</body>
</html>
